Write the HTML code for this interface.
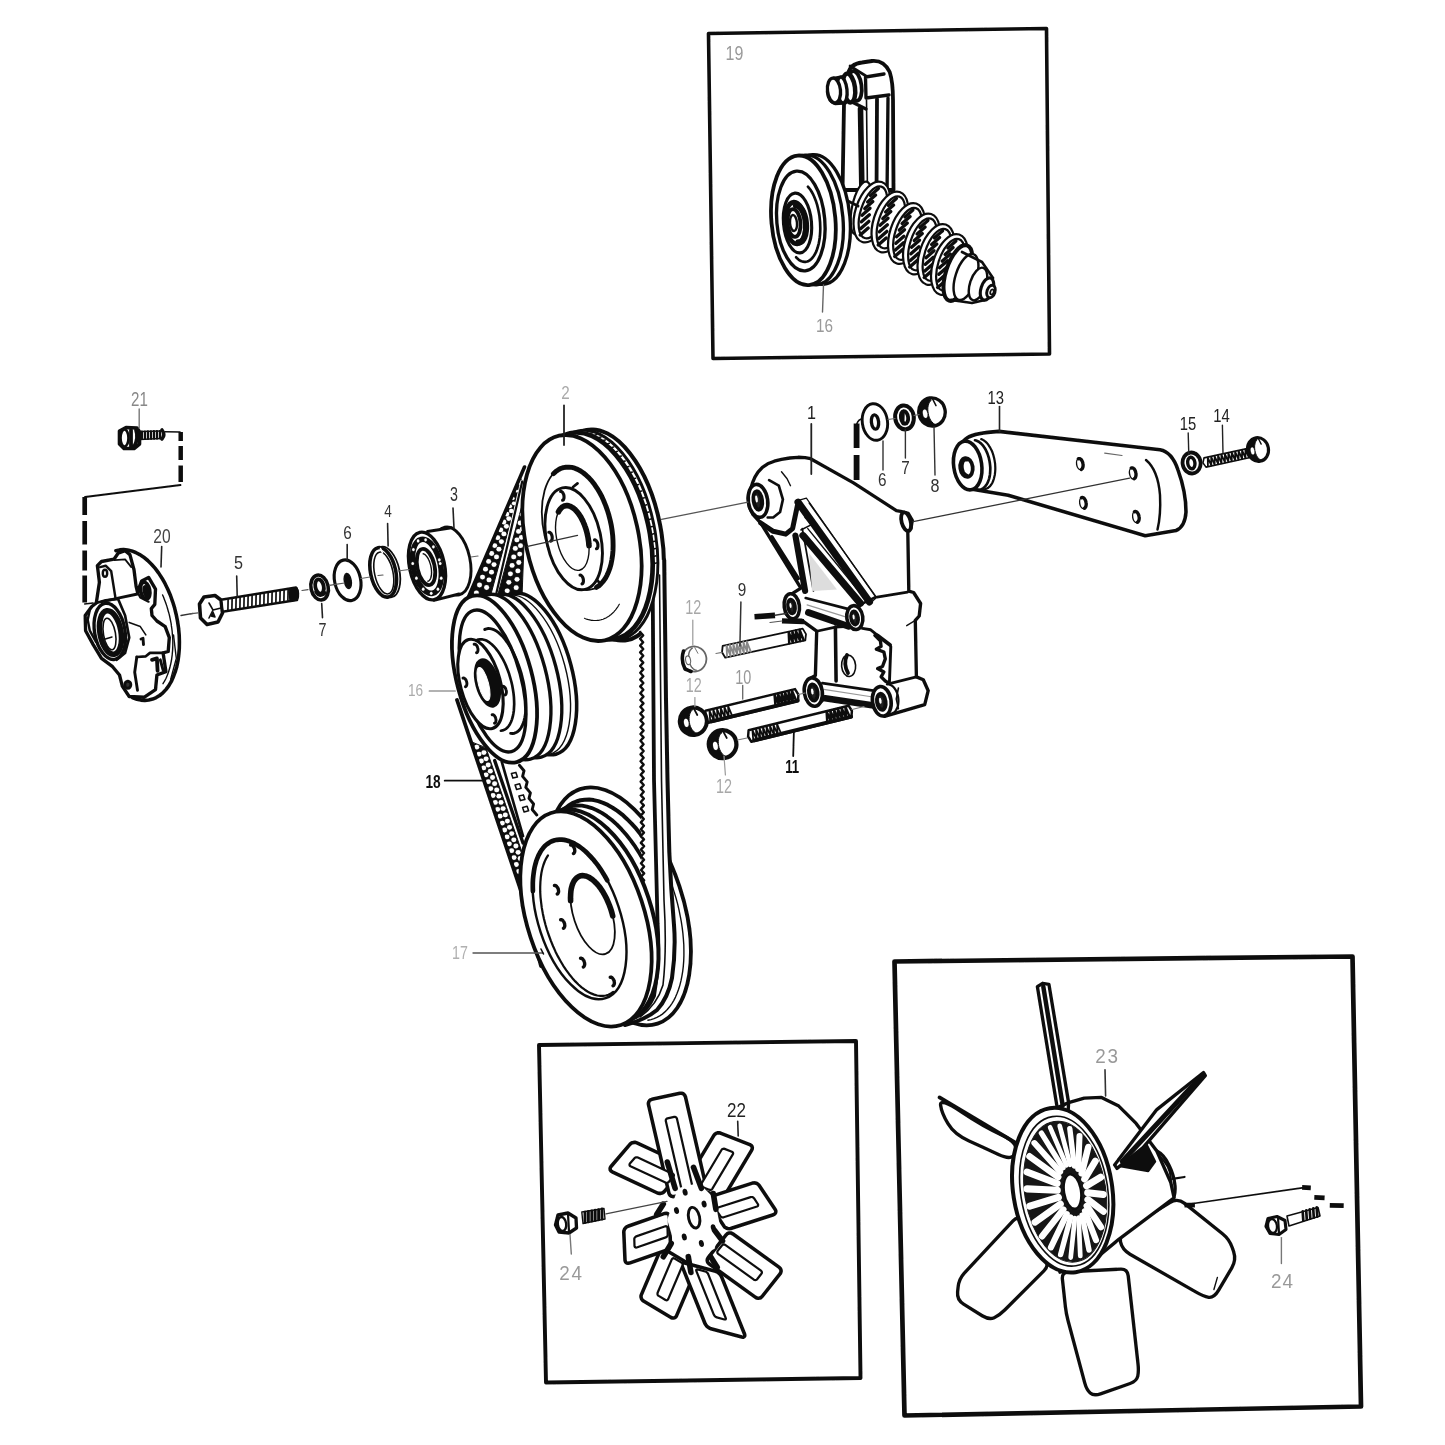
<!DOCTYPE html>
<html><head><meta charset="utf-8"><title>Parts diagram</title>
<style>
html,body{margin:0;padding:0;background:#fff;}
body{width:1445px;height:1445px;overflow:hidden;font-family:"Liberation Sans",sans-serif;}
svg{display:block;}
svg text{font-family:"Liberation Sans",sans-serif;}
svg path,svg ellipse,svg line,svg polygon{stroke-linecap:round;stroke-linejoin:round;}
</style></head><body>
<svg width="1445" height="1445" viewBox="0 0 1445 1445">
<defs><filter id="soft" x="-2%" y="-2%" width="104%" height="104%"><feGaussianBlur stdDeviation="0.55"/></filter></defs>
<rect x="0" y="0" width="1445" height="1445" fill="#fff"/>
<g filter="url(#soft)">
<path d="M708.5,33.5 L1046.5,28.5 L1049.5,354.0 L713.0,358.5 Z" fill="none" stroke="#111" stroke-width="3.58" />
<path d="M539.0,1045.0 L856.0,1041.0 L860.5,1378.0 L546.0,1382.5 Z" fill="none" stroke="#111" stroke-width="3.92" />
<path d="M894.5,961.5 L1352.5,956.5 L1361.0,1406.5 L904.5,1415.5 Z" fill="none" stroke="#111" stroke-width="4.7" />
<path d="M842.7,182 L844,104 L848,100 L848,74 Q850,64 862,62.5 L872,61 Q884,60 889.7,72 Q893,82 893,100 L893.5,190 L842,190 Z" fill="#fff" stroke="#111" stroke-width="3.81" />
<path d="M860.5,109 L862,196" fill="none" stroke="#111" stroke-width="5.6" />
<path d="M866.5,100 L867.5,196" fill="none" stroke="#111" stroke-width="1.6" />
<path d="M877,99 L876.5,196" fill="none" stroke="#111" stroke-width="3.81" />
<path d="M888,98 L887,196" fill="none" stroke="#111" stroke-width="3.36" />
<path d="M865.5,77 L884,74 M865.5,77 L866,98 L889,95" fill="none" stroke="#111" stroke-width="3.36" />
<path d="M848,100 L866,109" fill="none" stroke="#111" stroke-width="3.36" />
<path d="M850,66 L866,76" fill="none" stroke="#111" stroke-width="2.69" />
<ellipse cx="855" cy="86" rx="6.5" ry="15" transform="rotate(-8 855 86)" fill="#fff" stroke="#111" stroke-width="3.81" />
<ellipse cx="849" cy="88" rx="6" ry="14.5" transform="rotate(-8 849 88)" fill="#fff" stroke="#111" stroke-width="4.48" />
<path d="M842,77 L834,78.5 Q827.5,83 827.5,92 Q828.5,101.5 835,103.5 L843,103" fill="#fff" stroke="#111" stroke-width="3.36" />
<ellipse cx="842" cy="90" rx="5" ry="13" transform="rotate(-6 842 90)" fill="#fff" stroke="#111" stroke-width="3.36" />
<ellipse cx="834" cy="90.5" rx="6.5" ry="12.5" transform="rotate(-6 834 90.5)" fill="#fff" stroke="#111" stroke-width="3.36" />
<ellipse cx="861" cy="208" rx="9" ry="27" transform="rotate(12 861 208)" fill="#fff" stroke="#111" stroke-width="2.24" />
<ellipse cx="872" cy="212" rx="16.5" ry="31.5" transform="rotate(18 872 212)" fill="#fff" stroke="#111" stroke-width="2.24" />
<ellipse cx="873" cy="212.3" rx="12.3" ry="27" transform="rotate(18 873 212.3)" fill="#fff" stroke="#111" stroke-width="2.24" />
<path d="M870.4,195.4 L878.4,188.4" fill="none" stroke="#111" stroke-width="3.36" />
<path d="M867.6,202.0 L875.6,195.0" fill="none" stroke="#111" stroke-width="3.36" />
<path d="M864.8,208.6 L872.8,201.6" fill="none" stroke="#111" stroke-width="3.36" />
<path d="M862.0,215.2 L870.0,208.2" fill="none" stroke="#111" stroke-width="3.36" />
<path d="M861.4,221.8 L869.4,214.8" fill="none" stroke="#111" stroke-width="3.36" />
<path d="M860.8,228.4 L868.8,221.4" fill="none" stroke="#111" stroke-width="3.36" />
<path d="M860.2,235.0 L868.2,228.0" fill="none" stroke="#111" stroke-width="3.36" />
<ellipse cx="890" cy="222" rx="16.5" ry="31.5" transform="rotate(18 890 222)" fill="#fff" stroke="#111" stroke-width="2.24" />
<ellipse cx="891" cy="222.3" rx="12.3" ry="27" transform="rotate(18 891 222.3)" fill="#fff" stroke="#111" stroke-width="2.24" />
<path d="M888.4,205.4 L896.4,198.4" fill="none" stroke="#111" stroke-width="3.36" />
<path d="M885.6,212.0 L893.6,205.0" fill="none" stroke="#111" stroke-width="3.36" />
<path d="M882.8,218.6 L890.8,211.6" fill="none" stroke="#111" stroke-width="3.36" />
<path d="M880.0,225.2 L888.0,218.2" fill="none" stroke="#111" stroke-width="3.36" />
<path d="M879.4,231.8 L887.4,224.8" fill="none" stroke="#111" stroke-width="3.36" />
<path d="M878.8,238.4 L886.8,231.4" fill="none" stroke="#111" stroke-width="3.36" />
<path d="M878.2,245.0 L886.2,238.0" fill="none" stroke="#111" stroke-width="3.36" />
<ellipse cx="906.5" cy="233.5" rx="16.5" ry="31.5" transform="rotate(18 906.5 233.5)" fill="#fff" stroke="#111" stroke-width="2.24" />
<ellipse cx="907.5" cy="233.8" rx="12.3" ry="27" transform="rotate(18 907.5 233.8)" fill="#fff" stroke="#111" stroke-width="2.24" />
<path d="M904.9,216.9 L912.9,209.9" fill="none" stroke="#111" stroke-width="3.36" />
<path d="M902.1,223.5 L910.1,216.5" fill="none" stroke="#111" stroke-width="3.36" />
<path d="M899.3,230.1 L907.3,223.1" fill="none" stroke="#111" stroke-width="3.36" />
<path d="M896.5,236.7 L904.5,229.7" fill="none" stroke="#111" stroke-width="3.36" />
<path d="M895.9,243.3 L903.9,236.3" fill="none" stroke="#111" stroke-width="3.36" />
<path d="M895.3,249.9 L903.3,242.9" fill="none" stroke="#111" stroke-width="3.36" />
<path d="M894.7,256.5 L902.7,249.5" fill="none" stroke="#111" stroke-width="3.36" />
<ellipse cx="921.5" cy="244" rx="16.5" ry="31.5" transform="rotate(18 921.5 244)" fill="#fff" stroke="#111" stroke-width="2.24" />
<ellipse cx="922.5" cy="244.3" rx="12.3" ry="27" transform="rotate(18 922.5 244.3)" fill="#fff" stroke="#111" stroke-width="2.24" />
<path d="M919.9,227.4 L927.9,220.4" fill="none" stroke="#111" stroke-width="3.36" />
<path d="M917.1,234.0 L925.1,227.0" fill="none" stroke="#111" stroke-width="3.36" />
<path d="M914.3,240.6 L922.3,233.6" fill="none" stroke="#111" stroke-width="3.36" />
<path d="M911.5,247.2 L919.5,240.2" fill="none" stroke="#111" stroke-width="3.36" />
<path d="M910.9,253.8 L918.9,246.8" fill="none" stroke="#111" stroke-width="3.36" />
<path d="M910.3,260.4 L918.3,253.4" fill="none" stroke="#111" stroke-width="3.36" />
<path d="M909.7,267.0 L917.7,260.0" fill="none" stroke="#111" stroke-width="3.36" />
<ellipse cx="936" cy="254.5" rx="16.5" ry="31.5" transform="rotate(18 936 254.5)" fill="#fff" stroke="#111" stroke-width="2.24" />
<ellipse cx="937" cy="254.8" rx="12.3" ry="27" transform="rotate(18 937 254.8)" fill="#fff" stroke="#111" stroke-width="2.24" />
<path d="M934.4,237.9 L942.4,230.9" fill="none" stroke="#111" stroke-width="3.36" />
<path d="M931.6,244.5 L939.6,237.5" fill="none" stroke="#111" stroke-width="3.36" />
<path d="M928.8,251.1 L936.8,244.1" fill="none" stroke="#111" stroke-width="3.36" />
<path d="M926.0,257.7 L934.0,250.7" fill="none" stroke="#111" stroke-width="3.36" />
<path d="M925.4,264.3 L933.4,257.3" fill="none" stroke="#111" stroke-width="3.36" />
<path d="M924.8,270.9 L932.8,263.9" fill="none" stroke="#111" stroke-width="3.36" />
<path d="M924.2,277.5 L932.2,270.5" fill="none" stroke="#111" stroke-width="3.36" />
<ellipse cx="949.5" cy="264.5" rx="16.5" ry="31.5" transform="rotate(18 949.5 264.5)" fill="#fff" stroke="#111" stroke-width="2.24" />
<ellipse cx="950.5" cy="264.8" rx="12.3" ry="27" transform="rotate(18 950.5 264.8)" fill="#fff" stroke="#111" stroke-width="2.24" />
<path d="M947.9,247.9 L955.9,240.9" fill="none" stroke="#111" stroke-width="3.36" />
<path d="M945.1,254.5 L953.1,247.5" fill="none" stroke="#111" stroke-width="3.36" />
<path d="M942.3,261.1 L950.3,254.1" fill="none" stroke="#111" stroke-width="3.36" />
<path d="M939.5,267.7 L947.5,260.7" fill="none" stroke="#111" stroke-width="3.36" />
<path d="M938.9,274.3 L946.9,267.3" fill="none" stroke="#111" stroke-width="3.36" />
<path d="M938.3,280.9 L946.3,273.9" fill="none" stroke="#111" stroke-width="3.36" />
<path d="M937.7,287.5 L945.7,280.5" fill="none" stroke="#111" stroke-width="3.36" />
<ellipse cx="958" cy="273" rx="12" ry="29" transform="rotate(18 958 273)" fill="#fff" stroke="#111" stroke-width="4.03" />
<ellipse cx="966" cy="277" rx="10.5" ry="24" transform="rotate(18 966 277)" fill="#fff" stroke="#111" stroke-width="2.46" />
<path d="M962,252 L982,262 L993,278 M951,300 L972,303 L985,300" fill="none" stroke="#111" stroke-width="2.69" />
<ellipse cx="978" cy="284" rx="8" ry="17" transform="rotate(18 978 284)" fill="#fff" stroke="#111" stroke-width="2.46" />
<ellipse cx="987" cy="289" rx="6" ry="11.5" transform="rotate(18 987 289)" fill="#fff" stroke="#111" stroke-width="3.14" />
<ellipse cx="991" cy="291.5" rx="4" ry="6.5" transform="rotate(18 991 291.5)" fill="#fff" stroke="#111" stroke-width="2.91" />
<ellipse cx="992" cy="292" rx="1.6" ry="2.6" transform="rotate(18 992 292)" fill="#fff" stroke="#111" stroke-width="1.8" />
<path d="M842,182 Q838,196 846,200 L858,206" fill="none" stroke="#111" stroke-width="2.91" />
<ellipse cx="818" cy="219.5" rx="32" ry="65" transform="rotate(-5 818 219.5)" fill="#fff" stroke="#111" stroke-width="3.36" />
<ellipse cx="811" cy="220" rx="32" ry="65" transform="rotate(-5 811 220)" fill="#fff" stroke="#111" stroke-width="3.36" />
<ellipse cx="803.4" cy="220.3" rx="32" ry="65" transform="rotate(-5 803.4 220.3)" fill="#fff" stroke="#111" stroke-width="3.81" />
<ellipse cx="800.8" cy="221" rx="24" ry="50" transform="rotate(-5 800.8 221)" fill="#fff" stroke="#111" stroke-width="3.36" />
<path d="M807.9,186.7 L809.3,188.3 L810.6,190.0 L811.8,192.0 L813.0,194.2 L814.1,196.5 L815.1,199.0 L816.1,201.6 L817.0,204.4 L817.7,207.2 L818.4,210.2 L819.0,213.2 L819.5,216.3 L819.8,219.4 L820.1,222.5 L820.2,225.6 L820.3,228.8 L820.2,231.8 L820.0,234.8 L819.7,237.7 L819.3,240.6 L818.8,243.3 L818.1,245.9 L817.4,248.3 L816.6,250.6 L815.7,252.7 L814.7,254.6 L813.6,256.3 L812.5,257.8 L811.3,259.0 L810.0,260.1 L808.7,260.9 L807.3,261.5 L806.0,261.8 L804.5,261.9 L803.1,261.7 L801.7,261.3 L800.2,260.7 L798.8,259.8 L797.4,258.6 L796.1,257.3" fill="none" stroke="#111" stroke-width="2.69" />
<ellipse cx="797.5" cy="223" rx="14" ry="30" transform="rotate(-5 797.5 223)" fill="#fff" stroke="#111" stroke-width="3.14" />
<ellipse cx="795.5" cy="223" rx="10" ry="21" transform="rotate(-5 795.5 223)" fill="#fff" stroke="#111" stroke-width="4.7" />
<path d="M795.9,205.6 L796.6,205.6 L797.3,205.7 L798.0,205.9 L798.7,206.3 L799.3,206.8 L800.0,207.3 L800.7,208.0 L801.3,208.8 L801.9,209.7 L802.5,210.7 L803.1,211.8 L803.6,213.0 L804.0,214.2 L804.5,215.5 L804.9,216.8 L805.2,218.2 L805.5,219.6 L805.7,221.1 L805.9,222.6 L806.0,224.1 L806.1,225.6 L806.1,227.0 L806.1,228.5 L806.0,229.9 L805.8,231.3 L805.6,232.6 L805.4,233.9 L805.1,235.2 L804.7,236.3 L804.3,237.4 L803.8,238.3 L803.4,239.2 L802.8,240.0 L802.3,240.7 L801.7,241.3 L801.0,241.7 L800.4,242.1 L799.7,242.3 L799.1,242.4 L798.4,242.4" fill="none" stroke="#111" stroke-width="6.16" />
<ellipse cx="794" cy="223" rx="6.5" ry="14" transform="rotate(-5 794 223)" fill="#fff" stroke="#111" stroke-width="3.81" />
<ellipse cx="793.5" cy="223" rx="3.5" ry="8" transform="rotate(-5 793.5 223)" fill="#fff" stroke="#111" stroke-width="2.46" />
<text x="0" y="0" font-size="20" fill="#9a9a9a" text-anchor="middle" transform="translate(734.5,59.5) scale(0.8,1)">19</text>
<line x1="823.5" y1="285" x2="822.5" y2="312" stroke="#666" stroke-width="1.4" />
<text x="0" y="0" font-size="18" fill="#9a9a9a" text-anchor="middle" transform="translate(824.5,331.5) scale(0.85,1)">16</text>
<ellipse cx="618.8" cy="906.4" rx="63.9" ry="123.5" transform="rotate(-18.3 618.8 906.4)" fill="#fff" stroke="#111" stroke-width="3.81" />
<path d="M652.0,842.6 L654.9,847.6 L657.8,852.7 L660.5,858.0 L663.2,863.4 L665.7,869.0 L668.0,874.6 L670.2,880.4 L672.3,886.2 L674.2,892.1 L676.0,898.0 L677.6,903.9 L679.0,909.9 L680.2,915.8 L681.3,921.7 L682.2,927.6 L682.9,933.4 L683.4,939.2 L683.8,944.8 L683.9,950.4 L683.9,955.8 L683.7,961.1 L683.3,966.3 L682.7,971.3 L681.9,976.1 L681.0,980.7 L679.9,985.1 L678.6,989.3 L677.1,993.3 L675.5,997.1 L673.7,1000.6 L671.7,1003.8 L669.6,1006.8 L667.3,1009.5 L664.9,1011.9 L662.4,1014.1 L659.7,1015.9 L656.9,1017.4 L654.0,1018.7 L651.0,1019.6 L647.9,1020.2" fill="none" stroke="#111" stroke-width="1.4" />
<path d="M563.7,946.1 L560.6,938.6 L557.7,930.9 L555.2,923.2 L552.9,915.3 L551.0,907.4 L549.4,899.6 L548.1,891.8 L547.2,884.0 L546.5,876.4 L546.3,869.0 L546.4,861.8 L546.8,854.8 L547.6,848.1 L548.7,841.7 L550.1,835.7 L551.9,830.0 L554.0,824.8 L556.4,820.0 L559.1,815.6 L562.0,811.7 L565.3,808.4 L568.7,805.5 L572.4,803.2 L576.4,801.5 L580.5,800.3 L584.7,799.7 L589.2,799.6 L593.7,800.1 L598.3,801.1 L603.1,802.8 L607.8,804.9 L612.6,807.7 L617.4,810.9 L622.2,814.6 L626.9,818.9 L631.6,823.6 L636.2,828.7 L640.6,834.3 L644.9,840.2 L649.0,846.5" fill="none" stroke="#111" stroke-width="4.03" />
<path d="M554.5,949.5 L551.3,941.6 L548.3,933.6 L545.7,925.5 L543.5,917.4 L541.5,909.1 L540.0,901.0 L538.8,892.8 L537.9,884.8 L537.5,877.0 L537.4,869.4 L537.7,862.0 L538.4,854.9 L539.5,848.2 L541.0,841.8 L542.8,835.9 L544.9,830.4 L547.4,825.4 L550.2,820.9 L553.4,816.9 L556.8,813.5 L560.5,810.7 L564.4,808.5 L568.6,806.9 L572.9,805.8 L577.5,805.5 L582.1,805.7 L586.9,806.6 L591.8,808.1 L596.8,810.2 L601.8,812.9 L606.8,816.2 L611.8,820.0 L616.7,824.4 L621.6,829.4 L626.3,834.8 L630.9,840.6 L635.4,846.9 L639.6,853.5 L643.7,860.6 L647.5,867.9" fill="none" stroke="#111" stroke-width="3.81" />
<ellipse cx="607" cy="535" rx="54" ry="107" transform="rotate(-11 607 535)" fill="#fff" stroke="#111" stroke-width="4.03" />
<path d="M641,560 L641.5,890 L660,960 L676,945 L670,850 L665,560 Z" fill="#fff" stroke="#fff" stroke-width="0.1" />
<path d="M664.2,560 L666,700 L667.5,780 L669.3,852 Q671,890 674,925 Q676,950 672,978 Q668,998 657,1010 Q645,1020 625,1025" fill="none" stroke="#111" stroke-width="4.03" />
<path d="M659.5,575 L661.5,780 L664,900 Q667,950 663,985 Q657,1005 640,1017" fill="none" stroke="#111" stroke-width="1.6" />
<path d="M652.5,560 L654,780 L657.6,924 Q660,960 654,996 Q648,1010 636,1017" fill="none" stroke="#111" stroke-width="3.81" />
<path d="M640.1,632.0 L643.1,635.4 L640.1,638.8 L643.1,642.2 L640.2,645.6 L643.2,649.0 L640.2,652.4 L643.2,655.8 L640.2,659.2 L643.2,662.6 L640.2,666.0 L643.2,669.4 L640.3,672.8 L643.3,676.2 L640.3,679.6 L643.3,683.0 L640.3,686.4 L643.3,689.8 L640.3,693.2 L643.4,696.6 L640.4,700.0 L643.4,703.4 L640.4,706.8 L643.4,710.2 L640.4,713.6 L643.4,717.0 L640.5,720.4 L643.5,723.8 L640.5,727.2 L643.5,730.6 L640.5,734.0 L643.5,737.4 L640.5,740.8 L643.5,744.2 L640.6,747.6 L643.6,751.0 L640.6,754.4 L643.6,757.8 L640.6,761.2 L643.6,764.6 L640.6,768.0 L643.7,771.4 L640.7,774.8 L643.7,778.2 L640.7,781.6 L643.7,785.0 L640.7,788.4 L643.7,791.8 L640.8,795.2 L643.8,798.6 L640.8,802.0 L643.8,805.4 L640.8,808.8 L643.8,812.2 L640.8,815.6 L643.8,819.0 L640.9,822.4 L643.9,825.8 L640.9,829.2 L643.9,832.6 L640.9,836.0 L643.9,839.4 L640.9,842.8 L644.0,846.2 L641.0,849.6 L644.0,853.0 L641.0,856.4 L644.0,859.8 L641.0,863.2 L644.0,866.6 L641.1,870.0 L644.1,873.4 L641.1,876.8 L644.1,880.2 L641.1,883.6 L644.1,887.0 L641.1,890.4" fill="none" stroke="#111" stroke-width="2.46" />
<path d="M526,463 L469,597 L500,640 L560,600 L540,470 Z" fill="#fff" stroke="#fff" stroke-width="0.1" />
<path d="M520.0,477.5 L468.0,598.0 L491.0,594.0 L521.7,481.5 Z" fill="#111" stroke="#111" stroke-width="1" />
<ellipse cx="519.5" cy="483.4" rx="1.34" ry="1.27" transform="rotate(0 519.5 483.4)" fill="#fff" stroke="#fff" stroke-width="0.1" />
<ellipse cx="516.7" cy="491.1" rx="1.5" ry="1.43" transform="rotate(0 516.7 491.1)" fill="#fff" stroke="#fff" stroke-width="0.1" />
<ellipse cx="512.9" cy="498.4" rx="1.77" ry="1.68" transform="rotate(0 512.9 498.4)" fill="#fff" stroke="#fff" stroke-width="0.1" />
<ellipse cx="509.9" cy="506.2" rx="2.11" ry="2.0" transform="rotate(0 509.9 506.2)" fill="#fff" stroke="#fff" stroke-width="0.1" />
<ellipse cx="506.8" cy="514.1" rx="2.48" ry="2.36" transform="rotate(0 506.8 514.1)" fill="#fff" stroke="#fff" stroke-width="0.1" />
<ellipse cx="503.8" cy="522.0" rx="2.5" ry="2.38" transform="rotate(0 503.8 522.0)" fill="#fff" stroke="#fff" stroke-width="0.1" />
<ellipse cx="500.7" cy="529.9" rx="2.5" ry="2.38" transform="rotate(0 500.7 529.9)" fill="#fff" stroke="#fff" stroke-width="0.1" />
<ellipse cx="497.7" cy="537.7" rx="2.5" ry="2.38" transform="rotate(0 497.7 537.7)" fill="#fff" stroke="#fff" stroke-width="0.1" />
<ellipse cx="494.7" cy="545.6" rx="2.5" ry="2.38" transform="rotate(0 494.7 545.6)" fill="#fff" stroke="#fff" stroke-width="0.1" />
<ellipse cx="491.6" cy="553.5" rx="2.5" ry="2.38" transform="rotate(0 491.6 553.5)" fill="#fff" stroke="#fff" stroke-width="0.1" />
<ellipse cx="488.6" cy="561.4" rx="2.5" ry="2.38" transform="rotate(0 488.6 561.4)" fill="#fff" stroke="#fff" stroke-width="0.1" />
<ellipse cx="485.5" cy="569.2" rx="2.5" ry="2.38" transform="rotate(0 485.5 569.2)" fill="#fff" stroke="#fff" stroke-width="0.1" />
<ellipse cx="482.5" cy="577.1" rx="2.5" ry="2.38" transform="rotate(0 482.5 577.1)" fill="#fff" stroke="#fff" stroke-width="0.1" />
<ellipse cx="479.5" cy="585.0" rx="2.5" ry="2.38" transform="rotate(0 479.5 585.0)" fill="#fff" stroke="#fff" stroke-width="0.1" />
<ellipse cx="476.4" cy="592.9" rx="2.5" ry="2.38" transform="rotate(0 476.4 592.9)" fill="#fff" stroke="#fff" stroke-width="0.1" />
<ellipse cx="513.8" cy="503.3" rx="1.93" ry="1.84" transform="rotate(0 513.8 503.3)" fill="#fff" stroke="#fff" stroke-width="0.1" />
<ellipse cx="511.3" cy="510.9" rx="2.29" ry="2.17" transform="rotate(0 511.3 510.9)" fill="#fff" stroke="#fff" stroke-width="0.1" />
<ellipse cx="508.8" cy="518.6" rx="2.5" ry="2.38" transform="rotate(0 508.8 518.6)" fill="#fff" stroke="#fff" stroke-width="0.1" />
<ellipse cx="506.4" cy="526.3" rx="2.5" ry="2.38" transform="rotate(0 506.4 526.3)" fill="#fff" stroke="#fff" stroke-width="0.1" />
<ellipse cx="503.9" cy="533.9" rx="2.5" ry="2.38" transform="rotate(0 503.9 533.9)" fill="#fff" stroke="#fff" stroke-width="0.1" />
<ellipse cx="501.4" cy="541.6" rx="2.5" ry="2.38" transform="rotate(0 501.4 541.6)" fill="#fff" stroke="#fff" stroke-width="0.1" />
<ellipse cx="498.9" cy="549.2" rx="2.5" ry="2.38" transform="rotate(0 498.9 549.2)" fill="#fff" stroke="#fff" stroke-width="0.1" />
<ellipse cx="496.5" cy="556.9" rx="2.5" ry="2.38" transform="rotate(0 496.5 556.9)" fill="#fff" stroke="#fff" stroke-width="0.1" />
<ellipse cx="494.0" cy="564.6" rx="2.5" ry="2.38" transform="rotate(0 494.0 564.6)" fill="#fff" stroke="#fff" stroke-width="0.1" />
<ellipse cx="491.5" cy="572.2" rx="2.5" ry="2.38" transform="rotate(0 491.5 572.2)" fill="#fff" stroke="#fff" stroke-width="0.1" />
<ellipse cx="489.0" cy="579.9" rx="2.5" ry="2.38" transform="rotate(0 489.0 579.9)" fill="#fff" stroke="#fff" stroke-width="0.1" />
<ellipse cx="486.6" cy="587.5" rx="2.5" ry="2.38" transform="rotate(0 486.6 587.5)" fill="#fff" stroke="#fff" stroke-width="0.1" />
<path d="M523.5,500.0 L498.0,594.0 L522.0,597.0 L525.5,505.0 Z" fill="#111" stroke="#111" stroke-width="1" />
<ellipse cx="523.4" cy="506.0" rx="1.73" ry="1.64" transform="rotate(0 523.4 506.0)" fill="#fff" stroke="#fff" stroke-width="0.1" />
<ellipse cx="521.8" cy="514.5" rx="2.06" ry="1.96" transform="rotate(0 521.8 514.5)" fill="#fff" stroke="#fff" stroke-width="0.1" />
<ellipse cx="520.2" cy="523.0" rx="2.5" ry="2.38" transform="rotate(0 520.2 523.0)" fill="#fff" stroke="#fff" stroke-width="0.1" />
<ellipse cx="518.5" cy="531.4" rx="2.5" ry="2.38" transform="rotate(0 518.5 531.4)" fill="#fff" stroke="#fff" stroke-width="0.1" />
<ellipse cx="516.9" cy="539.9" rx="2.5" ry="2.38" transform="rotate(0 516.9 539.9)" fill="#fff" stroke="#fff" stroke-width="0.1" />
<ellipse cx="515.3" cy="548.4" rx="2.5" ry="2.38" transform="rotate(0 515.3 548.4)" fill="#fff" stroke="#fff" stroke-width="0.1" />
<ellipse cx="513.7" cy="556.9" rx="2.5" ry="2.38" transform="rotate(0 513.7 556.9)" fill="#fff" stroke="#fff" stroke-width="0.1" />
<ellipse cx="512.1" cy="565.4" rx="2.5" ry="2.38" transform="rotate(0 512.1 565.4)" fill="#fff" stroke="#fff" stroke-width="0.1" />
<ellipse cx="510.4" cy="573.8" rx="2.5" ry="2.38" transform="rotate(0 510.4 573.8)" fill="#fff" stroke="#fff" stroke-width="0.1" />
<ellipse cx="508.8" cy="582.3" rx="2.5" ry="2.38" transform="rotate(0 508.8 582.3)" fill="#fff" stroke="#fff" stroke-width="0.1" />
<ellipse cx="507.2" cy="590.8" rx="2.5" ry="2.38" transform="rotate(0 507.2 590.8)" fill="#fff" stroke="#fff" stroke-width="0.1" />
<ellipse cx="524.1" cy="512.0" rx="1.88" ry="1.78" transform="rotate(0 524.1 512.0)" fill="#fff" stroke="#fff" stroke-width="0.1" />
<ellipse cx="523.2" cy="520.4" rx="2.27" ry="2.16" transform="rotate(0 523.2 520.4)" fill="#fff" stroke="#fff" stroke-width="0.1" />
<ellipse cx="522.3" cy="528.8" rx="2.5" ry="2.38" transform="rotate(0 522.3 528.8)" fill="#fff" stroke="#fff" stroke-width="0.1" />
<ellipse cx="521.4" cy="537.3" rx="2.5" ry="2.38" transform="rotate(0 521.4 537.3)" fill="#fff" stroke="#fff" stroke-width="0.1" />
<ellipse cx="520.5" cy="545.7" rx="2.5" ry="2.38" transform="rotate(0 520.5 545.7)" fill="#fff" stroke="#fff" stroke-width="0.1" />
<ellipse cx="519.7" cy="554.1" rx="2.5" ry="2.38" transform="rotate(0 519.7 554.1)" fill="#fff" stroke="#fff" stroke-width="0.1" />
<ellipse cx="518.8" cy="562.5" rx="2.5" ry="2.38" transform="rotate(0 518.8 562.5)" fill="#fff" stroke="#fff" stroke-width="0.1" />
<ellipse cx="517.9" cy="570.9" rx="2.5" ry="2.38" transform="rotate(0 517.9 570.9)" fill="#fff" stroke="#fff" stroke-width="0.1" />
<ellipse cx="517.0" cy="579.3" rx="2.5" ry="2.38" transform="rotate(0 517.0 579.3)" fill="#fff" stroke="#fff" stroke-width="0.1" />
<ellipse cx="516.2" cy="587.7" rx="2.5" ry="2.38" transform="rotate(0 516.2 587.7)" fill="#fff" stroke="#fff" stroke-width="0.1" />
<path d="M524.5,467 L468,598" fill="none" stroke="#111" stroke-width="3.58" />
<path d="M521.7,481.5 L495.4,593" fill="none" stroke="#fff" stroke-width="2.91" />
<path d="M522.2,481.5 L496.4,593" fill="none" stroke="#111" stroke-width="2.24" />
<path d="M462,720 L523,899 L545,890 L540,800 L500,730 Z" fill="#fff" stroke="#fff" stroke-width="0.1" />
<path d="M471.0,742.0 L518.0,882.0 L524.0,858.0 L486.0,748.0 Z" fill="#111" stroke="#111" stroke-width="1" />
<ellipse cx="476.7" cy="747.2" rx="2.5" ry="2.38" transform="rotate(0 476.7 747.2)" fill="#fff" stroke="#fff" stroke-width="0.1" />
<ellipse cx="479.0" cy="754.1" rx="2.5" ry="2.38" transform="rotate(0 479.0 754.1)" fill="#fff" stroke="#fff" stroke-width="0.1" />
<ellipse cx="481.3" cy="761.0" rx="2.5" ry="2.38" transform="rotate(0 481.3 761.0)" fill="#fff" stroke="#fff" stroke-width="0.1" />
<ellipse cx="483.7" cy="767.9" rx="2.5" ry="2.38" transform="rotate(0 483.7 767.9)" fill="#fff" stroke="#fff" stroke-width="0.1" />
<ellipse cx="486.0" cy="774.8" rx="2.5" ry="2.38" transform="rotate(0 486.0 774.8)" fill="#fff" stroke="#fff" stroke-width="0.1" />
<ellipse cx="488.3" cy="781.7" rx="2.5" ry="2.38" transform="rotate(0 488.3 781.7)" fill="#fff" stroke="#fff" stroke-width="0.1" />
<ellipse cx="490.7" cy="788.6" rx="2.5" ry="2.38" transform="rotate(0 490.7 788.6)" fill="#fff" stroke="#fff" stroke-width="0.1" />
<ellipse cx="493.0" cy="795.5" rx="2.5" ry="2.38" transform="rotate(0 493.0 795.5)" fill="#fff" stroke="#fff" stroke-width="0.1" />
<ellipse cx="495.3" cy="802.4" rx="2.5" ry="2.38" transform="rotate(0 495.3 802.4)" fill="#fff" stroke="#fff" stroke-width="0.1" />
<ellipse cx="497.6" cy="809.3" rx="2.5" ry="2.38" transform="rotate(0 497.6 809.3)" fill="#fff" stroke="#fff" stroke-width="0.1" />
<ellipse cx="500.0" cy="816.2" rx="2.5" ry="2.38" transform="rotate(0 500.0 816.2)" fill="#fff" stroke="#fff" stroke-width="0.1" />
<ellipse cx="502.3" cy="823.1" rx="2.5" ry="2.38" transform="rotate(0 502.3 823.1)" fill="#fff" stroke="#fff" stroke-width="0.1" />
<ellipse cx="504.6" cy="830.0" rx="2.5" ry="2.38" transform="rotate(0 504.6 830.0)" fill="#fff" stroke="#fff" stroke-width="0.1" />
<ellipse cx="507.0" cy="836.9" rx="2.5" ry="2.38" transform="rotate(0 507.0 836.9)" fill="#fff" stroke="#fff" stroke-width="0.1" />
<ellipse cx="509.3" cy="843.8" rx="2.5" ry="2.38" transform="rotate(0 509.3 843.8)" fill="#fff" stroke="#fff" stroke-width="0.1" />
<ellipse cx="511.6" cy="850.7" rx="2.5" ry="2.38" transform="rotate(0 511.6 850.7)" fill="#fff" stroke="#fff" stroke-width="0.1" />
<ellipse cx="514.0" cy="857.6" rx="2.5" ry="2.38" transform="rotate(0 514.0 857.6)" fill="#fff" stroke="#fff" stroke-width="0.1" />
<ellipse cx="516.3" cy="864.5" rx="2.5" ry="2.38" transform="rotate(0 516.3 864.5)" fill="#fff" stroke="#fff" stroke-width="0.1" />
<ellipse cx="518.6" cy="871.4" rx="2.5" ry="2.38" transform="rotate(0 518.6 871.4)" fill="#fff" stroke="#fff" stroke-width="0.1" />
<ellipse cx="483.9" cy="752.6" rx="2.5" ry="2.38" transform="rotate(0 483.9 752.6)" fill="#fff" stroke="#fff" stroke-width="0.1" />
<ellipse cx="486.1" cy="758.8" rx="2.5" ry="2.38" transform="rotate(0 486.1 758.8)" fill="#fff" stroke="#fff" stroke-width="0.1" />
<ellipse cx="488.2" cy="765.0" rx="2.5" ry="2.38" transform="rotate(0 488.2 765.0)" fill="#fff" stroke="#fff" stroke-width="0.1" />
<ellipse cx="490.3" cy="771.2" rx="2.5" ry="2.38" transform="rotate(0 490.3 771.2)" fill="#fff" stroke="#fff" stroke-width="0.1" />
<ellipse cx="492.5" cy="777.5" rx="2.5" ry="2.38" transform="rotate(0 492.5 777.5)" fill="#fff" stroke="#fff" stroke-width="0.1" />
<ellipse cx="494.6" cy="783.7" rx="2.5" ry="2.38" transform="rotate(0 494.6 783.7)" fill="#fff" stroke="#fff" stroke-width="0.1" />
<ellipse cx="496.7" cy="789.9" rx="2.5" ry="2.38" transform="rotate(0 496.7 789.9)" fill="#fff" stroke="#fff" stroke-width="0.1" />
<ellipse cx="498.9" cy="796.2" rx="2.5" ry="2.38" transform="rotate(0 498.9 796.2)" fill="#fff" stroke="#fff" stroke-width="0.1" />
<ellipse cx="501.0" cy="802.4" rx="2.5" ry="2.38" transform="rotate(0 501.0 802.4)" fill="#fff" stroke="#fff" stroke-width="0.1" />
<ellipse cx="503.1" cy="808.6" rx="2.5" ry="2.38" transform="rotate(0 503.1 808.6)" fill="#fff" stroke="#fff" stroke-width="0.1" />
<ellipse cx="505.3" cy="814.9" rx="2.5" ry="2.38" transform="rotate(0 505.3 814.9)" fill="#fff" stroke="#fff" stroke-width="0.1" />
<ellipse cx="507.4" cy="821.1" rx="2.5" ry="2.38" transform="rotate(0 507.4 821.1)" fill="#fff" stroke="#fff" stroke-width="0.1" />
<ellipse cx="509.5" cy="827.3" rx="2.5" ry="2.38" transform="rotate(0 509.5 827.3)" fill="#fff" stroke="#fff" stroke-width="0.1" />
<ellipse cx="511.7" cy="833.6" rx="2.5" ry="2.38" transform="rotate(0 511.7 833.6)" fill="#fff" stroke="#fff" stroke-width="0.1" />
<ellipse cx="513.8" cy="839.8" rx="2.5" ry="2.38" transform="rotate(0 513.8 839.8)" fill="#fff" stroke="#fff" stroke-width="0.1" />
<ellipse cx="515.9" cy="846.0" rx="2.5" ry="2.38" transform="rotate(0 515.9 846.0)" fill="#fff" stroke="#fff" stroke-width="0.1" />
<ellipse cx="518.1" cy="852.3" rx="2.5" ry="2.38" transform="rotate(0 518.1 852.3)" fill="#fff" stroke="#fff" stroke-width="0.1" />
<ellipse cx="520.2" cy="858.5" rx="2.5" ry="2.38" transform="rotate(0 520.2 858.5)" fill="#fff" stroke="#fff" stroke-width="0.1" />
<path d="M457,700 L524,900 L541,966" fill="none" stroke="#111" stroke-width="3.81" />
<path d="M494.7,760.6 L523,843" fill="none" stroke="#111" stroke-width="3.36" />
<path d="M501.8,761.8 L523,836" fill="none" stroke="#111" stroke-width="2.69" />
<path d="M519.4,765.3 L524.0,770.8 L522.6,776.3 L527.2,781.9 L525.8,787.4 L530.4,792.9 L529.0,798.4 L533.6,804.0 L532.2,809.5 L536.8,815.0" fill="none" stroke="#111" stroke-width="2.91" />
<path d="M511.4,773.6 l4.5,-1.2 l1.5,4.5 l-4.5,1.2 z" fill="none" stroke="#111" stroke-width="1.6" />
<path d="M515.1,784.9 l4.5,-1.2 l1.5,4.5 l-4.5,1.2 z" fill="none" stroke="#111" stroke-width="1.6" />
<path d="M518.9,796.1 l4.5,-1.2 l1.5,4.5 l-4.5,1.2 z" fill="none" stroke="#111" stroke-width="1.6" />
<path d="M522.6,807.4 l4.5,-1.2 l1.5,4.5 l-4.5,1.2 z" fill="none" stroke="#111" stroke-width="1.6" />
<ellipse cx="534.5" cy="674" rx="37.5" ry="83" transform="rotate(-15 534.5 674)" fill="#fff" stroke="#111" stroke-width="3.58" />
<ellipse cx="528.5" cy="675" rx="37.5" ry="82" transform="rotate(-15 528.5 675)" fill="#fff" stroke="#111" stroke-width="1.4" />
<ellipse cx="519.5" cy="676" rx="37.5" ry="84" transform="rotate(-15 519.5 676)" fill="#fff" stroke="#111" stroke-width="3.36" />
<ellipse cx="508.5" cy="677" rx="37.5" ry="85" transform="rotate(-15 508.5 677)" fill="#fff" stroke="#111" stroke-width="3.36" />
<ellipse cx="494.5" cy="679" rx="37.5" ry="86" transform="rotate(-15 494.5 679)" fill="#fff" stroke="#111" stroke-width="3.81" />
<ellipse cx="492.6" cy="681" rx="28.5" ry="73" transform="rotate(-15 492.6 681)" fill="#fff" stroke="#111" stroke-width="3.36" />
<path d="M484.7,629.5 L486.5,628.9 L488.3,628.5 L490.3,628.6 L492.3,629.1 L494.4,629.9 L496.5,631.1 L498.6,632.7 L500.8,634.6 L503.0,636.8 L505.1,639.4 L507.2,642.3 L509.3,645.4 L511.3,648.8 L513.2,652.4 L515.0,656.3 L516.7,660.3 L518.3,664.5 L519.8,668.8 L521.2,673.1 L522.3,677.6 L523.4,682.0 L524.2,686.5 L524.9,690.9 L525.4,695.3 L525.8,699.5 L525.9,703.6 L525.9,707.5 L525.7,711.3 L525.3,714.8 L524.7,718.1 L523.9,721.1 L523.0,723.9 L521.9,726.3 L520.7,728.4 L519.3,730.1 L517.8,731.5 L516.1,732.5 L514.4,733.2 L512.5,733.5 L510.6,733.4" fill="none" stroke="#111" stroke-width="2.91" />
<path d="M475.0,641.2 L476.6,640.3 L478.2,639.6 L480.0,639.3 L481.9,639.3 L483.8,639.7 L485.7,640.3 L487.7,641.3 L489.7,642.7 L491.7,644.3 L493.7,646.2 L495.7,648.4 L497.6,650.8 L499.5,653.6 L501.3,656.5 L503.1,659.6 L504.8,663.0 L506.3,666.4 L507.7,670.1 L509.1,673.8 L510.2,677.6 L511.3,681.5 L512.2,685.3 L512.9,689.2 L513.5,693.1 L513.9,696.9 L514.1,700.6 L514.2,704.2 L514.0,707.6 L513.8,710.9 L513.3,714.0 L512.7,716.9 L511.9,719.6 L511.0,722.0 L509.9,724.2 L508.7,726.0 L507.4,727.6 L505.9,728.9 L504.3,729.8 L502.6,730.4 L500.9,730.7" fill="none" stroke="#111" stroke-width="2.69" />
<ellipse cx="480.5" cy="684" rx="20" ry="46" transform="rotate(-15 480.5 684)" fill="#fff" stroke="#111" stroke-width="3.14" />
<ellipse cx="487.5" cy="683" rx="11" ry="24" transform="rotate(-15 487.5 683)" fill="#111" stroke="#111" stroke-width="2.69" />
<ellipse cx="483.5" cy="684" rx="5" ry="17" transform="rotate(-15 483.5 684)" fill="#fff" stroke="#fff" stroke-width="1" />
<path d="M474.1,644.2 L474.3,644.1 L474.5,644.1 L474.7,644.1 L474.9,644.2 L475.1,644.2 L475.4,644.3 L475.6,644.5 L475.8,644.6 L476.0,644.8 L476.2,645.0 L476.4,645.2 L476.6,645.4 L476.8,645.7 L476.9,646.0 L477.1,646.2 L477.2,646.5 L477.4,646.9 L477.5,647.2 L477.6,647.5 L477.7,647.9 L477.8,648.2 L477.9,648.5 L477.9,648.9 L478.0,649.2 L478.0,649.6 L478.0,649.9 L478.0,650.2 L477.9,650.5 L477.9,650.8 L477.8,651.1 L477.8,651.4 L477.7,651.6 L477.6,651.9 L477.4,652.1 L477.3,652.3 L477.2,652.4 L477.0,652.6 L476.8,652.7 L476.7,652.8 L476.5,652.8" fill="none" stroke="#111" stroke-width="2.91" />
<path d="M502.5,686.4 L502.7,686.3 L502.9,686.3 L503.1,686.3 L503.3,686.4 L503.5,686.4 L503.8,686.5 L504.0,686.7 L504.2,686.8 L504.4,687.0 L504.6,687.2 L504.8,687.4 L505.0,687.6 L505.2,687.9 L505.3,688.2 L505.5,688.4 L505.6,688.7 L505.8,689.1 L505.9,689.4 L506.0,689.7 L506.1,690.1 L506.2,690.4 L506.3,690.7 L506.3,691.1 L506.4,691.4 L506.4,691.8 L506.4,692.1 L506.4,692.4 L506.3,692.7 L506.3,693.0 L506.2,693.3 L506.2,693.6 L506.1,693.8 L506.0,694.1 L505.8,694.3 L505.7,694.5 L505.6,694.6 L505.4,694.8 L505.2,694.9 L505.1,695.0 L504.9,695.0" fill="none" stroke="#111" stroke-width="2.91" />
<path d="M492.1,714.7 L492.3,714.6 L492.5,714.6 L492.7,714.6 L492.9,714.7 L493.1,714.7 L493.4,714.8 L493.6,715.0 L493.8,715.1 L494.0,715.3 L494.2,715.5 L494.4,715.7 L494.6,715.9 L494.8,716.2 L494.9,716.5 L495.1,716.7 L495.2,717.0 L495.4,717.4 L495.5,717.7 L495.6,718.0 L495.7,718.4 L495.8,718.7 L495.9,719.0 L495.9,719.4 L496.0,719.7 L496.0,720.1 L496.0,720.4 L496.0,720.7 L495.9,721.0 L495.9,721.3 L495.8,721.6 L495.8,721.9 L495.7,722.1 L495.6,722.4 L495.4,722.6 L495.3,722.8 L495.2,722.9 L495.0,723.1 L494.8,723.2 L494.7,723.3 L494.5,723.3" fill="none" stroke="#111" stroke-width="2.91" />
<path d="M463.0,678.1 L463.2,678.0 L463.4,678.0 L463.6,678.0 L463.8,678.1 L464.0,678.1 L464.3,678.2 L464.5,678.4 L464.7,678.5 L464.9,678.7 L465.1,678.9 L465.3,679.1 L465.5,679.3 L465.7,679.6 L465.8,679.9 L466.0,680.1 L466.1,680.4 L466.3,680.8 L466.4,681.1 L466.5,681.4 L466.6,681.8 L466.7,682.1 L466.8,682.4 L466.8,682.8 L466.9,683.1 L466.9,683.5 L466.9,683.8 L466.9,684.1 L466.8,684.4 L466.8,684.7 L466.7,685.0 L466.7,685.3 L466.6,685.5 L466.5,685.8 L466.3,686.0 L466.2,686.2 L466.1,686.3 L465.9,686.5 L465.7,686.6 L465.6,686.7 L465.4,686.7" fill="none" stroke="#111" stroke-width="2.91" />
<ellipse cx="593" cy="916" rx="58.4" ry="110.6" transform="rotate(-18.3 593 916)" fill="#fff" stroke="#111" stroke-width="4.03" />
<ellipse cx="586" cy="919" rx="58.4" ry="111.6" transform="rotate(-18.3 586 919)" fill="#fff" stroke="#111" stroke-width="3.81" />
<ellipse cx="579.6" cy="919.4" rx="41" ry="83" transform="rotate(-18.3 579.6 919.4)" fill="#fff" stroke="#111" stroke-width="2.46" />
<path d="M532.9,891.1 L532.8,887.0 L532.8,882.9 L533.0,878.9 L533.4,875.1 L533.9,871.4 L534.5,867.8 L535.3,864.5 L536.2,861.3 L537.3,858.3 L538.5,855.4 L539.9,852.8 L541.3,850.4 L542.9,848.3 L544.6,846.3 L546.4,844.6 L548.4,843.2 L550.4,841.9 L552.5,841.0 L554.7,840.2 L557.0,839.8 L559.4,839.6 L561.8,839.6 L564.3,839.9 L566.8,840.5 L569.4,841.3 L572.0,842.4 L574.7,843.7 L577.3,845.2 L580.0,847.0 L582.6,849.0 L585.3,851.3 L587.9,853.8 L590.5,856.5 L593.1,859.3 L595.6,862.4 L598.1,865.7 L600.5,869.1 L602.8,872.7 L605.1,876.5 L607.3,880.4" fill="none" stroke="#111" stroke-width="4.7" />
<path d="M613.2,991.9 L610.9,993.5 L608.4,994.7 L605.8,995.5 L603.0,995.9 L600.2,995.9 L597.2,995.5 L594.2,994.6 L591.1,993.4 L587.9,991.7 L584.8,989.7 L581.6,987.3 L578.4,984.5 L575.3,981.4 L572.2,977.9 L569.2,974.2 L566.2,970.1 L563.3,965.8 L560.6,961.2 L557.9,956.4 L555.4,951.4 L553.1,946.2 L550.9,940.9 L548.9,935.5 L547.0,930.0 L545.4,924.5 L544.0,918.9 L542.8,913.4 L541.8,907.9 L541.1,902.4 L540.5,897.1 L540.2,891.9 L540.2,886.9 L540.4,882.0 L540.8,877.4 L541.4,873.0 L542.3,868.8 L543.4,865.0 L544.7,861.5 L546.2,858.3 L548.0,855.4" fill="none" stroke="#111" stroke-width="2.24" />
<ellipse cx="592.7" cy="915" rx="19" ry="41" transform="rotate(-18.3 592.7 915)" fill="#fff" stroke="#111" stroke-width="1.8" />
<path d="M570.6,900.7 L570.5,898.2 L570.6,895.7 L570.7,893.4 L570.9,891.1 L571.2,889.0 L571.7,887.0 L572.2,885.1 L572.9,883.4 L573.6,881.9 L574.4,880.5 L575.4,879.2 L576.4,878.2 L577.4,877.3 L578.6,876.6 L579.8,876.1 L581.1,875.8 L582.5,875.6 L583.9,875.7 L585.3,875.9 L586.8,876.4 L588.3,877.0 L589.8,877.8 L591.3,878.8 L592.9,880.0 L594.4,881.3 L596.0,882.9 L597.5,884.5 L599.0,886.3 L600.5,888.3 L601.9,890.4 L603.3,892.6 L604.6,894.9 L605.9,897.3 L607.1,899.8 L608.2,902.4 L609.3,905.0 L610.3,907.7 L611.2,910.4 L612.0,913.1 L612.7,915.9" fill="none" stroke="#111" stroke-width="5.6" />
<path d="M570.6,845.0 L570.8,845.0 L571.0,845.0 L571.2,845.0 L571.4,845.0 L571.6,845.1 L571.8,845.1 L572.0,845.2 L572.3,845.4 L572.5,845.5 L572.7,845.7 L572.9,845.9 L573.1,846.2 L573.3,846.4 L573.5,846.7 L573.7,846.9 L573.8,847.2 L574.0,847.5 L574.1,847.9 L574.3,848.2 L574.4,848.5 L574.5,848.9 L574.6,849.2 L574.6,849.5 L574.7,849.9 L574.7,850.2 L574.8,850.5 L574.8,850.9 L574.8,851.2 L574.7,851.5 L574.7,851.8 L574.6,852.0 L574.5,852.3 L574.4,852.5 L574.3,852.8 L574.2,852.9 L574.1,853.1 L573.9,853.3 L573.8,853.4 L573.6,853.5 L573.4,853.6" fill="none" stroke="#111" stroke-width="3.36" />
<path d="M554.4,885.5 L554.6,885.5 L554.8,885.5 L555.0,885.5 L555.2,885.5 L555.4,885.6 L555.6,885.6 L555.8,885.7 L556.1,885.9 L556.3,886.0 L556.5,886.2 L556.7,886.4 L556.9,886.7 L557.1,886.9 L557.3,887.2 L557.5,887.4 L557.6,887.7 L557.8,888.0 L557.9,888.4 L558.1,888.7 L558.2,889.0 L558.3,889.4 L558.4,889.7 L558.4,890.0 L558.5,890.4 L558.5,890.7 L558.6,891.0 L558.6,891.4 L558.6,891.7 L558.5,892.0 L558.5,892.3 L558.4,892.5 L558.3,892.8 L558.2,893.0 L558.1,893.3 L558.0,893.4 L557.9,893.6 L557.7,893.8 L557.6,893.9 L557.4,894.0 L557.2,894.1" fill="none" stroke="#111" stroke-width="3.36" />
<path d="M560.6,919.7 L560.8,919.7 L561.0,919.7 L561.2,919.7 L561.4,919.7 L561.6,919.8 L561.8,919.8 L562.0,919.9 L562.3,920.1 L562.5,920.2 L562.7,920.4 L562.9,920.6 L563.1,920.9 L563.3,921.1 L563.5,921.4 L563.7,921.6 L563.8,921.9 L564.0,922.2 L564.1,922.6 L564.3,922.9 L564.4,923.2 L564.5,923.6 L564.6,923.9 L564.6,924.2 L564.7,924.6 L564.7,924.9 L564.8,925.2 L564.8,925.6 L564.8,925.9 L564.7,926.2 L564.7,926.5 L564.6,926.7 L564.5,927.0 L564.4,927.2 L564.3,927.5 L564.2,927.6 L564.1,927.8 L563.9,928.0 L563.8,928.1 L563.6,928.2 L563.4,928.3" fill="none" stroke="#111" stroke-width="3.36" />
<path d="M580.5,958.3 L580.7,958.3 L580.9,958.3 L581.1,958.3 L581.3,958.3 L581.5,958.4 L581.7,958.4 L581.9,958.5 L582.2,958.7 L582.4,958.8 L582.6,959.0 L582.8,959.2 L583.0,959.5 L583.2,959.7 L583.4,960.0 L583.6,960.2 L583.7,960.5 L583.9,960.8 L584.0,961.2 L584.2,961.5 L584.3,961.8 L584.4,962.2 L584.5,962.5 L584.5,962.8 L584.6,963.2 L584.6,963.5 L584.7,963.8 L584.7,964.2 L584.7,964.5 L584.6,964.8 L584.6,965.1 L584.5,965.3 L584.4,965.6 L584.3,965.8 L584.2,966.1 L584.1,966.2 L584.0,966.4 L583.8,966.6 L583.7,966.7 L583.5,966.8 L583.3,966.9" fill="none" stroke="#111" stroke-width="3.36" />
<path d="M610.2,977.2 L610.4,977.2 L610.6,977.2 L610.8,977.2 L611.0,977.2 L611.2,977.3 L611.4,977.3 L611.6,977.4 L611.9,977.6 L612.1,977.7 L612.3,977.9 L612.5,978.1 L612.7,978.4 L612.9,978.6 L613.1,978.9 L613.3,979.1 L613.4,979.4 L613.6,979.7 L613.7,980.1 L613.9,980.4 L614.0,980.7 L614.1,981.1 L614.2,981.4 L614.2,981.7 L614.3,982.1 L614.3,982.4 L614.4,982.7 L614.4,983.1 L614.4,983.4 L614.3,983.7 L614.3,984.0 L614.2,984.2 L614.1,984.5 L614.0,984.7 L613.9,985.0 L613.8,985.1 L613.7,985.3 L613.5,985.5 L613.4,985.6 L613.2,985.7 L613.0,985.8" fill="none" stroke="#111" stroke-width="3.36" />
<ellipse cx="599.5" cy="535" rx="55.3" ry="106.3" transform="rotate(-11.6 599.5 535)" fill="#fff" stroke="#111" stroke-width="2.91" />
<ellipse cx="593" cy="536" rx="56.3" ry="105.3" transform="rotate(-12.6 593 536)" fill="#fff" stroke="#111" stroke-width="4.7" />
<path d="M590.3,433.3 l2.2,-0.6" fill="none" stroke="#111" stroke-width="1.6" />
<path d="M594.6,435.2 l2.2,-0.6" fill="none" stroke="#111" stroke-width="1.6" />
<path d="M598.8,437.6 l2.2,-0.6" fill="none" stroke="#111" stroke-width="1.6" />
<path d="M603.0,440.5 l2.2,-0.6" fill="none" stroke="#111" stroke-width="1.6" />
<path d="M607.2,443.9 l2.2,-0.6" fill="none" stroke="#111" stroke-width="1.6" />
<path d="M611.3,447.7 l2.2,-0.6" fill="none" stroke="#111" stroke-width="1.6" />
<path d="M615.3,451.9 l2.2,-0.6" fill="none" stroke="#111" stroke-width="1.6" />
<path d="M619.3,456.6 l2.2,-0.6" fill="none" stroke="#111" stroke-width="1.6" />
<path d="M623.0,461.6 l2.2,-0.6" fill="none" stroke="#111" stroke-width="1.6" />
<path d="M626.7,467.0 l2.2,-0.6" fill="none" stroke="#111" stroke-width="1.6" />
<path d="M630.1,472.7 l2.2,-0.6" fill="none" stroke="#111" stroke-width="1.6" />
<path d="M633.4,478.8 l2.2,-0.6" fill="none" stroke="#111" stroke-width="1.6" />
<path d="M636.5,485.1 l2.2,-0.6" fill="none" stroke="#111" stroke-width="1.6" />
<path d="M639.4,491.6 l2.2,-0.6" fill="none" stroke="#111" stroke-width="1.6" />
<path d="M642.1,498.4 l2.2,-0.6" fill="none" stroke="#111" stroke-width="1.6" />
<path d="M644.5,505.4 l2.2,-0.6" fill="none" stroke="#111" stroke-width="1.6" />
<path d="M646.7,512.5 l2.2,-0.6" fill="none" stroke="#111" stroke-width="1.6" />
<path d="M648.6,519.7 l2.2,-0.6" fill="none" stroke="#111" stroke-width="1.6" />
<path d="M650.2,527.1 l2.2,-0.6" fill="none" stroke="#111" stroke-width="1.6" />
<path d="M651.5,534.4 l2.2,-0.6" fill="none" stroke="#111" stroke-width="1.6" />
<path d="M652.6,541.8 l2.2,-0.6" fill="none" stroke="#111" stroke-width="1.6" />
<path d="M653.4,549.1 l2.2,-0.6" fill="none" stroke="#111" stroke-width="1.6" />
<path d="M653.9,556.4 l2.2,-0.6" fill="none" stroke="#111" stroke-width="1.6" />
<path d="M654.1,563.5 l2.2,-0.6" fill="none" stroke="#111" stroke-width="1.6" />
<ellipse cx="582" cy="538" rx="56.3" ry="104.8" transform="rotate(-12.6 582 538)" fill="#fff" stroke="#111" stroke-width="3.81" />
<ellipse cx="577.5" cy="528.5" rx="33.7" ry="62.5" transform="rotate(-12.6 577.5 528.5)" fill="#fff" stroke="#111" stroke-width="1.8" />
<path d="M553.4,473.7 L555.7,471.6 L558.1,469.9 L560.6,468.5 L563.3,467.6 L566.0,467.2 L568.9,467.1 L571.8,467.4 L574.7,468.2 L577.6,469.4 L580.6,471.0 L583.5,473.0 L586.4,475.4 L589.2,478.1 L592.0,481.2 L594.6,484.6 L597.1,488.3 L599.5,492.3 L601.8,496.5 L603.8,501.0 L605.7,505.6 L607.4,510.4 L608.9,515.3 L610.2,520.4 L611.3,525.4 L612.1,530.5 L612.7,535.6 L613.0,540.6 L613.1,545.6 L613.0,550.4 L612.6,555.1 L611.9,559.6 L611.1,563.9 L610.0,567.9 L608.6,571.7 L607.1,575.1 L605.4,578.3 L603.4,581.1 L601.3,583.5 L599.1,585.6 L596.6,587.3" fill="none" stroke="#111" stroke-width="4.93" />
<ellipse cx="573.7" cy="538.7" rx="27" ry="52" transform="rotate(-12.6 573.7 538.7)" fill="#fff" stroke="#111" stroke-width="2.91" />
<ellipse cx="572.3" cy="538" rx="15.5" ry="33" transform="rotate(-12.6 572.3 538)" fill="#fff" stroke="#111" stroke-width="1.4" />
<path d="M558.5,511.8 L559.1,510.7 L559.8,509.7 L560.5,508.8 L561.2,508.0 L562.0,507.3 L562.8,506.7 L563.7,506.3 L564.6,505.9 L565.5,505.7 L566.4,505.6 L567.4,505.6 L568.4,505.8 L569.4,506.1 L570.4,506.4 L571.4,507.0 L572.5,507.6 L573.5,508.3 L574.5,509.1 L575.5,510.1 L576.5,511.2 L577.5,512.3 L578.5,513.6 L579.4,514.9 L580.3,516.3 L581.2,517.8 L582.0,519.4 L582.9,521.1 L583.6,522.8 L584.4,524.6 L585.0,526.4 L585.7,528.3 L586.3,530.2 L586.8,532.1 L587.3,534.1 L587.7,536.0 L588.1,538.0 L588.4,540.0 L588.7,542.0 L588.8,543.9 L589.0,545.8" fill="none" stroke="#111" stroke-width="5.6" />
<path d="M560.6,491.4 L560.8,491.4 L561.0,491.4 L561.2,491.4 L561.4,491.5 L561.6,491.6 L561.7,491.7 L561.9,491.8 L562.1,492.0 L562.3,492.1 L562.5,492.3 L562.7,492.6 L562.8,492.8 L563.0,493.1 L563.2,493.4 L563.3,493.7 L563.4,494.0 L563.6,494.3 L563.7,494.6 L563.8,495.0 L563.8,495.3 L563.9,495.6 L564.0,496.0 L564.0,496.3 L564.0,496.7 L564.0,497.0 L564.0,497.3 L564.0,497.7 L564.0,498.0 L563.9,498.3 L563.9,498.6 L563.8,498.8 L563.7,499.1 L563.6,499.3 L563.5,499.5 L563.4,499.7 L563.2,499.8 L563.1,500.0 L562.9,500.1 L562.8,500.1 L562.6,500.2" fill="none" stroke="#111" stroke-width="3.14" />
<path d="M594.5,539.9 L594.7,539.9 L594.9,539.9 L595.1,539.9 L595.3,540.0 L595.5,540.1 L595.6,540.2 L595.8,540.3 L596.0,540.5 L596.2,540.6 L596.4,540.8 L596.6,541.1 L596.7,541.3 L596.9,541.6 L597.1,541.9 L597.2,542.2 L597.3,542.5 L597.5,542.8 L597.6,543.1 L597.7,543.5 L597.7,543.8 L597.8,544.1 L597.9,544.5 L597.9,544.8 L597.9,545.2 L597.9,545.5 L597.9,545.8 L597.9,546.2 L597.9,546.5 L597.8,546.8 L597.8,547.1 L597.7,547.3 L597.6,547.6 L597.5,547.8 L597.4,548.0 L597.3,548.2 L597.1,548.3 L597.0,548.5 L596.8,548.6 L596.7,548.6 L596.5,548.7" fill="none" stroke="#111" stroke-width="3.14" />
<path d="M580.0,575.1 L580.2,575.1 L580.4,575.1 L580.6,575.1 L580.8,575.2 L581.0,575.3 L581.1,575.4 L581.3,575.5 L581.5,575.7 L581.7,575.8 L581.9,576.0 L582.1,576.3 L582.2,576.5 L582.4,576.8 L582.6,577.1 L582.7,577.4 L582.8,577.7 L583.0,578.0 L583.1,578.3 L583.2,578.7 L583.2,579.0 L583.3,579.3 L583.4,579.7 L583.4,580.0 L583.4,580.4 L583.4,580.7 L583.4,581.0 L583.4,581.4 L583.4,581.7 L583.3,582.0 L583.3,582.3 L583.2,582.5 L583.1,582.8 L583.0,583.0 L582.9,583.2 L582.8,583.4 L582.6,583.5 L582.5,583.7 L582.3,583.8 L582.2,583.8 L582.0,583.9" fill="none" stroke="#111" stroke-width="3.14" />
<path d="M548.8,532.2 L549.0,532.2 L549.2,532.2 L549.4,532.2 L549.6,532.3 L549.8,532.4 L549.9,532.5 L550.1,532.6 L550.3,532.8 L550.5,532.9 L550.7,533.1 L550.9,533.4 L551.0,533.6 L551.2,533.9 L551.4,534.2 L551.5,534.5 L551.6,534.8 L551.8,535.1 L551.9,535.4 L552.0,535.8 L552.0,536.1 L552.1,536.4 L552.2,536.8 L552.2,537.1 L552.2,537.5 L552.2,537.8 L552.2,538.1 L552.2,538.5 L552.2,538.8 L552.1,539.1 L552.1,539.4 L552.0,539.6 L551.9,539.9 L551.8,540.1 L551.7,540.3 L551.6,540.5 L551.4,540.6 L551.3,540.8 L551.1,540.9 L551.0,540.9 L550.8,541.0" fill="none" stroke="#111" stroke-width="3.14" />
<path d="M577.5,483.4 L573,487 M601,584.4 L597,580" fill="none" stroke="#111" stroke-width="2.69" />
<path d="M619.3,604.2 L618.7,605.3 L618.1,606.3 L617.4,607.3 L616.8,608.2 L616.1,609.2 L615.4,610.1 L614.6,610.9 L613.9,611.8 L613.2,612.5 L612.4,613.3 L611.6,614.0 L610.8,614.7 L610.0,615.3 L609.2,616.0 L608.3,616.5 L607.5,617.1 L606.6,617.6 L605.8,618.0 L604.9,618.4 L604.0,618.8 L603.1,619.2 L602.2,619.5 L601.3,619.7 L600.3,620.0 L599.4,620.2 L598.4,620.3 L597.5,620.4 L596.5,620.5 L595.5,620.5 L594.6,620.5 L593.6,620.5 L592.6,620.4 L591.6,620.3 L590.6,620.1 L589.6,619.9 L588.6,619.7 L587.6,619.4 L586.6,619.1 L585.5,618.7 L584.5,618.3" fill="none" stroke="#111" stroke-width="1.2" />
<path d="M119.5,431 L126,427.5 L137,428 L139.5,432 L139.5,444 L134,448.5 L124,448.5 L119.5,444 Z" fill="#fff" stroke="#111" stroke-width="3.58" />
<ellipse cx="124.5" cy="438" rx="4" ry="8.5" transform="rotate(0 124.5 438)" fill="#fff" stroke="#111" stroke-width="2.69" />
<path d="M131,430 L131,447 M136,430 Q139,438 134,447" fill="none" stroke="#111" stroke-width="3.81" />
<path d="M139.5,431.5 L161,431 M139.5,439.5 L161,438.5" fill="none" stroke="#111" stroke-width="1.6" />
<path d="M142.1,439.0 L141.9,431.6 M145.1,439.0 L144.9,431.5 M148.1,438.9 L147.9,431.4 M151.1,438.8 L150.9,431.3 M154.1,438.7 L153.9,431.2 M157.1,438.6 L156.9,431.1 M160.1,438.5 L159.9,431.1 " fill="none" stroke="#111" stroke-width="2.24" />
<path d="M162,430 Q165.5,434.5 162,439" fill="none" stroke="#111" stroke-width="3.58" />
<line x1="165" y1="431.7" x2="180" y2="432" stroke="#111" stroke-width="1.6" />
<path d="M180.7,432 L180.7,484" fill="none" stroke="#111" stroke-width="4.48" stroke-dasharray="9 5 14 5.5 16.5 5" style="stroke-linecap:butt"/>
<line x1="180.5" y1="485" x2="85" y2="497" stroke="#111" stroke-width="1.8" />
<path d="M84.7,497 L84.7,604" fill="none" stroke="#111" stroke-width="4.7" stroke-dasharray="18 6 23.5 6 20 5 27 9" style="stroke-linecap:butt"/>
<line x1="84.7" y1="604" x2="93" y2="603" stroke="#111" stroke-width="1.6" />
<path d="M115.9,550.7 L119.7,549.9 L123.6,549.6 L127.6,550.0 L131.6,550.9 L135.7,552.5 L139.7,554.6 L143.7,557.2 L147.7,560.5 L151.5,564.2 L155.2,568.4 L158.7,573.1 L162.0,578.2 L165.1,583.7 L167.9,589.5 L170.5,595.5 L172.7,601.8 L174.7,608.3 L176.3,615.0 L177.6,621.7 L178.6,628.4 L179.2,635.1 L179.4,641.8 L179.3,648.3 L178.8,654.6 L178.0,660.7 L176.8,666.4 L175.2,671.9 L173.3,677.0 L171.2,681.7 L168.7,685.9 L165.9,689.6 L162.9,692.8 L159.6,695.5 L156.2,697.6 L152.6,699.1 L148.8,700.0 L144.9,700.4 L140.9,700.1 L136.9,699.2 L132.8,697.8" fill="none" stroke="#111" stroke-width="3.58" />
<path d="M162.6,594.9 L163.5,597.1 L164.4,599.4 L165.3,601.7 L166.1,604.0 L166.9,606.4 L167.6,608.8 L168.3,611.2 L169.0,613.6 L169.6,616.0 L170.1,618.5 L170.6,620.9 L171.1,623.4 L171.4,625.9 L171.8,628.4 L172.1,630.8 L172.3,633.3 L172.5,635.8 L172.7,638.2 L172.8,640.7 L172.8,643.1 L172.8,645.5 L172.7,647.9 L172.6,650.2 L172.4,652.5 L172.2,654.8 L171.9,657.1 L171.6,659.3 L171.2,661.5 L170.8,663.6 L170.3,665.7 L169.8,667.8 L169.2,669.8 L168.6,671.7 L168.0,673.6 L167.2,675.5 L166.5,677.2 L165.7,679.0 L164.8,680.6 L163.9,682.2 L163.0,683.7" fill="none" stroke="#111" stroke-width="1.4" />
<path d="M97.4,565.7 L101.5,561.5 L114.0,559.2 L118.1,553.2 L125.1,550.7 L129.9,554.6 L134.0,569.8 L136.1,586.4 L137.5,592.0 L141.7,580.9 L148.6,577.4 L155.5,589.2 L154.8,604.4 L151.3,608.6 L152.0,615.5 L156.9,621.0 L165.2,626.6 L169.3,637.6 L168.2,651.5 L163.1,652.9 L165.9,671.6 L156.9,675.0 L155.5,689.6 L144.4,697.2 L129.2,696.5 L122.3,686.1 L119.5,675.0 L112.6,666.7 L101.5,658.4 L93.2,644.6 L85.6,630.7 L85.2,615.5 L91.8,606.5 L96.3,603.0 L99.4,582.3 Z" fill="#fff" stroke="#111" stroke-width="3.36" />
<path d="M100.1,567.1 L105.7,565.7 L111.2,571.2 L115.4,597.5" fill="none" stroke="#111" stroke-width="2.46" />
<path d="M114.7,560.1 L125.1,559.4 L131.3,567.1" fill="none" stroke="#111" stroke-width="1.8" />
<path d="M101.5,601.9 L118.1,598.2 L137.5,594.0" fill="none" stroke="#111" stroke-width="2.91" />
<ellipse cx="104.98269896193773" cy="573.2871972318339" rx="2.2" ry="3.5" transform="rotate(0 104.98269896193773 573.2871972318339)" fill="none" stroke="#111" stroke-width="2.46" />
<ellipse cx="145.12110726643598" cy="590.5882352941177" rx="4.5" ry="8.5" transform="rotate(-12 145.12110726643598 590.5882352941177)" fill="#fff" stroke="#111" stroke-width="3.81" />
<ellipse cx="146.0899653979239" cy="591.280276816609" rx="2" ry="5" transform="rotate(-12 146.0899653979239 591.280276816609)" fill="#111" stroke="#111" stroke-width="2.91" />
<path d="M137.5,592.0 L140.3,597.5 L148.6,601.7" fill="none" stroke="#111" stroke-width="2.24" />
<path d="M96.3,603.0 L105.7,600.3 L118.1,598.9 L125.1,615.5 L129.2,637.6 L125.1,652.9 L116.7,659.8" fill="none" stroke="#111" stroke-width="2.69" />
<ellipse cx="109.8" cy="631.4" rx="15.2" ry="28.4" transform="rotate(-10 109.8 631.4)" fill="#fff" stroke="#111" stroke-width="3.36" />
<ellipse cx="110.5" cy="632.5" rx="10.5" ry="22" transform="rotate(-10 110.5 632.5)" fill="#fff" stroke="#111" stroke-width="5.6" />
<ellipse cx="109.5" cy="634" rx="6" ry="16" transform="rotate(-10 109.5 634)" fill="#fff" stroke="#111" stroke-width="1.6" />
<path d="M102,640 L112,637" fill="none" stroke="#111" stroke-width="1.4" />
<path d="M89.8,610.0 L87.7,619.7 L89.8,630.7 L96.0,641.8" fill="none" stroke="#111" stroke-width="2.46" />
<path d="M129.2,622.4 L140.3,626.6 L145.8,634.9" fill="none" stroke="#111" stroke-width="1.6" />
<path d="M141.0,639.0 L143.0,638.3 L143.5,644.6" fill="none" stroke="#111" stroke-width="2.91" />
<path d="M136.8,657.0 L145.8,656.3 L150.0,652.9 L163.1,652.9" fill="none" stroke="#111" stroke-width="2.69" />
<path d="M136.8,657.0 L134.7,672.2 L137.5,690.2" fill="none" stroke="#111" stroke-width="2.91" />
<path d="M152.0,659.8 L156.9,658.4 L157.6,670.9" fill="none" stroke="#111" stroke-width="3.81" />
<path d="M160.3,659.8 L163.1,670.2" fill="none" stroke="#111" stroke-width="2.91" />
<ellipse cx="127.82006920415225" cy="684.7058823529412" rx="3" ry="3.5" transform="rotate(0 127.82006920415225 684.7058823529412)" fill="#333" stroke="#111" stroke-width="2.91" />
<path d="M173.5,634.9 L176.3,658.4 L170.7,679.2" fill="none" stroke="#111" stroke-width="1.4" />
<text x="0" y="0" font-size="21" fill="#888" text-anchor="middle" transform="translate(139.5,405.5) scale(0.72,1)">21</text>
<line x1="139.2" y1="409" x2="139.2" y2="428" stroke="#777" stroke-width="1.4" />
<text x="0" y="0" font-size="20" fill="#444" text-anchor="middle" transform="translate(162,542.5) scale(0.78,1)">20</text>
<line x1="161.7" y1="546.5" x2="161" y2="567" stroke="#222" stroke-width="1.6" />
<line x1="181" y1="615.5" x2="193" y2="613.4" stroke="#333" stroke-width="1.4" />
<path d="M204,597 L215,595.5 L221,600 L222.5,613 L218,622 L207,624.5 L200.5,618 L199.5,604 Z" fill="#fff" stroke="#111" stroke-width="3.58" />
<path d="M209,603 L213,610 L209,618 M213,610 L221,608" fill="none" stroke="#111" stroke-width="1.6" />
<path d="M211,616 l2,-4 l2,5 z" fill="#111" stroke="#111" stroke-width="1.5" />
<path d="M222.5,599.5 L296,587.5 Q299.5,593 297,600 L224,611.5" fill="#fff" stroke="#111" stroke-width="2.46" />
<path d="M227.9,610.3 L228.1,599.7 M231.9,609.7 L232.1,599.0 M235.9,609.0 L236.1,598.3 M239.9,608.3 L240.1,597.6 M243.9,607.6 L244.1,596.9 M247.9,606.9 L248.1,596.3 M251.9,606.3 L252.1,595.6 M255.9,605.6 L256.1,594.9 M259.9,604.9 L260.1,594.2 M263.9,604.2 L264.1,593.5 M267.9,603.5 L268.1,592.9 M271.9,602.9 L272.1,592.2 M275.9,602.2 L276.1,591.5 M279.9,601.5 L280.1,590.8 M283.9,600.8 L284.1,590.1 M287.9,600.1 L288.1,589.5 " fill="none" stroke="#111" stroke-width="1.7" />
<path d="M289,589 L297,588 Q299.5,593 297,600 L290,601 Z" fill="#111" stroke="#111" stroke-width="1.5" />
<text x="0" y="0" font-size="19" fill="#333" text-anchor="middle" transform="translate(238.5,569) scale(0.85,1)">5</text>
<line x1="236.7" y1="576" x2="237.2" y2="596.5" stroke="#222" stroke-width="1.6" />
<line x1="190" y1="613.8" x2="198" y2="612.8" stroke="#555" stroke-width="1.2" />
<line x1="302" y1="590.5" x2="308" y2="589.6" stroke="#555" stroke-width="1.2" />
<ellipse cx="319.6" cy="587.5" rx="8.6" ry="12.6" transform="rotate(-12 319.6 587.5)" fill="#fff" stroke="#111" stroke-width="3.58" />
<ellipse cx="319.5" cy="586.5" rx="4.2" ry="7.2" transform="rotate(-12 319.5 586.5)" fill="#fff" stroke="#111" stroke-width="3.81" />
<path d="M316,592 Q320,598 325,593" fill="none" stroke="#111" stroke-width="3.58" />
<line x1="329.5" y1="585.3" x2="334" y2="584.6" stroke="#555" stroke-width="1.2" />
<line x1="321.7" y1="603.5" x2="322.5" y2="617.6" stroke="#222" stroke-width="1.6" />
<text x="0" y="0" font-size="18" fill="#333" text-anchor="middle" transform="translate(322.5,636) scale(0.8,1)">7</text>
<ellipse cx="347.6" cy="580.3" rx="13" ry="20.6" transform="rotate(-12 347.6 580.3)" fill="#fff" stroke="#111" stroke-width="3.14" />
<ellipse cx="347.8" cy="581" rx="3.4" ry="7.6" transform="rotate(-10 347.8 581)" fill="#111" stroke="#111" stroke-width="1.5" />
<line x1="334" y1="584.6" x2="344.5" y2="583" stroke="#555" stroke-width="1.2" />
<line x1="347.2" y1="544.5" x2="347.2" y2="560" stroke="#222" stroke-width="1.6" />
<text x="0" y="0" font-size="18" fill="#333" text-anchor="middle" transform="translate(347.4,538.5) scale(0.85,1)">6</text>
<ellipse cx="386.3" cy="572" rx="13.2" ry="25.8" transform="rotate(-12 386.3 572)" fill="#fff" stroke="#111" stroke-width="1.8" />
<ellipse cx="383.2" cy="572.3" rx="12.6" ry="25.2" transform="rotate(-12 383.2 572.3)" fill="#fff" stroke="#111" stroke-width="3.58" />
<ellipse cx="383.8" cy="573" rx="9.2" ry="21.3" transform="rotate(-12 383.8 573)" fill="#fff" stroke="#111" stroke-width="1.6" />
<path d="M380.5,548.5 L382.5,553" fill="none" stroke="#fff" stroke-width="1.6" />
<line x1="378" y1="575.5" x2="383" y2="575" stroke="#555" stroke-width="1.2" />
<line x1="387.6" y1="523.6" x2="388.1" y2="546" stroke="#222" stroke-width="1.6" />
<text x="0" y="0" font-size="16" fill="#333" text-anchor="middle" transform="translate(388,516.5) scale(0.85,1)">4</text>
<ellipse cx="452" cy="561" rx="18" ry="34.5" transform="rotate(-12 452 561)" fill="#fff" stroke="#111" stroke-width="2.91" />
<path d="M427.5,531.5 L451,528 L460,594 L434,600 Z" fill="#fff" stroke="#fff" stroke-width="0.1" />
<path d="M427.5,531.5 L451.5,527.8 M434,600.3 L459,594" fill="none" stroke="#111" stroke-width="2.91" />
<ellipse cx="427" cy="566" rx="17.5" ry="34.4" transform="rotate(-12 427 566)" fill="#fff" stroke="#111" stroke-width="3.36" />
<ellipse cx="426.9" cy="566.3" rx="13.6" ry="27.5" transform="rotate(-12 426.9 566.3)" fill="#fff" stroke="#111" stroke-width="5.6" />
<ellipse cx="440.2" cy="563.5" rx="1.3" ry="1.6" transform="rotate(0 440.2 563.5)" fill="#fff" stroke="#fff" stroke-width="0.1" />
<ellipse cx="441.2" cy="578.2" rx="1.3" ry="1.6" transform="rotate(0 441.2 578.2)" fill="#fff" stroke="#fff" stroke-width="0.1" />
<ellipse cx="437.9" cy="589.2" rx="1.3" ry="1.6" transform="rotate(0 437.9 589.2)" fill="#fff" stroke="#fff" stroke-width="0.1" />
<ellipse cx="431.2" cy="593.3" rx="1.3" ry="1.6" transform="rotate(0 431.2 593.3)" fill="#fff" stroke="#fff" stroke-width="0.1" />
<ellipse cx="423.2" cy="589.2" rx="1.3" ry="1.6" transform="rotate(0 423.2 589.2)" fill="#fff" stroke="#fff" stroke-width="0.1" />
<ellipse cx="416.4" cy="578.2" rx="1.3" ry="1.6" transform="rotate(0 416.4 578.2)" fill="#fff" stroke="#fff" stroke-width="0.1" />
<ellipse cx="412.7" cy="563.5" rx="1.3" ry="1.6" transform="rotate(0 412.7 563.5)" fill="#fff" stroke="#fff" stroke-width="0.1" />
<ellipse cx="413.4" cy="549.6" rx="1.3" ry="1.6" transform="rotate(0 413.4 549.6)" fill="#fff" stroke="#fff" stroke-width="0.1" />
<ellipse cx="418.1" cy="540.9" rx="1.3" ry="1.6" transform="rotate(0 418.1 540.9)" fill="#fff" stroke="#fff" stroke-width="0.1" />
<ellipse cx="425.6" cy="539.8" rx="1.3" ry="1.6" transform="rotate(0 425.6 539.8)" fill="#fff" stroke="#fff" stroke-width="0.1" />
<ellipse cx="433.4" cy="546.8" rx="1.3" ry="1.6" transform="rotate(0 433.4 546.8)" fill="#fff" stroke="#fff" stroke-width="0.1" />
<ellipse cx="439.3" cy="559.8" rx="1.3" ry="1.6" transform="rotate(0 439.3 559.8)" fill="#fff" stroke="#fff" stroke-width="0.1" />
<ellipse cx="426" cy="567" rx="8.6" ry="18.4" transform="rotate(-12 426 567)" fill="#fff" stroke="#111" stroke-width="3.81" />
<path d="M423.2,553.8 L423.6,553.9 L424.1,554.1 L424.6,554.4 L425.1,554.7 L425.6,555.1 L426.0,555.6 L426.5,556.2 L427.0,556.8 L427.4,557.5 L427.9,558.2 L428.3,558.9 L428.7,559.8 L429.1,560.6 L429.5,561.5 L429.8,562.5 L430.1,563.4 L430.4,564.4 L430.7,565.4 L430.9,566.4 L431.1,567.5 L431.3,568.5 L431.4,569.5 L431.5,570.5 L431.5,571.5 L431.6,572.4 L431.5,573.4 L431.5,574.3 L431.4,575.1 L431.3,576.0 L431.1,576.8 L430.9,577.5 L430.7,578.2 L430.4,578.8 L430.2,579.3 L429.8,579.8 L429.5,580.2 L429.1,580.6 L428.7,580.9 L428.3,581.1 L427.9,581.2" fill="none" stroke="#111" stroke-width="1.4" />
<line x1="453" y1="508" x2="454" y2="528.4" stroke="#222" stroke-width="1.6" />
<text x="0" y="0" font-size="21" fill="#333" text-anchor="middle" transform="translate(454,501) scale(0.68,1)">3</text>
<path d="M750.4,489.8 L752.5,482.9 L754.9,477.1 L758.0,472.1 L762.4,467.3 L767.7,463.8 L774.3,461.2 L781.5,459.4 L789.8,458.0 L798.1,457.3 L805.1,457.6 L810.6,458.7 L853.5,482.9 L896.4,510.6 L900.6,511.3 L908.2,513.4 L912.3,520.3 L910.9,528.6 L907.8,531.3 L908.8,591.1 L913.6,592.5 L920.6,603.5 L919.2,616.0 L915.3,620.4 L916.4,676.9 L923.3,679.7 L928.2,690.7 L924.7,704.6 L884.6,716.3 L876.3,711.5 L872.8,701.8 L872.1,704.6 L825.1,697.6 L820.9,701.8 L812.6,705.3 L806.4,699.0 L804.6,689.3 L807.8,679.7 L815.4,675.5 L816.7,631.2 L801.5,620.1 L791.8,620.1 L785.6,613.2 L784.9,600.8 L789.8,595.2 L800.9,588.1 L760.8,523.0 L753.1,514.7 L749.4,507.1 L748.3,498.1 Z" fill="#fff" stroke="#111" stroke-width="3.36" />
<path d="M760.8,523.0 L773.2,531.3 L785.7,534.1 L792.6,528.6 L798.1,502.3" fill="none" stroke="#111" stroke-width="5.04" />
<path d="M781.5,471.8 L787.1,478.8 L790.5,485.7" fill="none" stroke="#111" stroke-width="1.4" />
<path d="M769.1,480.1 L778.8,485.7 L782.9,499.5 L780.1,512.0 L773.2,517.5 L767.7,517.5" fill="none" stroke="#111" stroke-width="2.69" />
<ellipse cx="758" cy="500.9" rx="9.7" ry="16.6" transform="rotate(-8 758 500.9)" fill="#fff" stroke="#111" stroke-width="3.58" />
<ellipse cx="757.8" cy="500.5" rx="4.2" ry="9.2" transform="rotate(-8 757.8 500.5)" fill="#222" stroke="#111" stroke-width="4.03" />
<ellipse cx="756.5" cy="499" rx="1.2" ry="3.5" transform="rotate(-8 756.5 499)" fill="#fff" stroke="#fff" stroke-width="0.1" />
<path d="M771.8,536.9 L798.1,578.4" fill="none" stroke="#111" stroke-width="3.81" />
<path d="M795.4,535.5 L805.1,590.9" fill="none" stroke="#111" stroke-width="6.16" />
<path d="M802.3,528.6 L813.4,590.9" fill="none" stroke="#111" stroke-width="1.8" />
<path d="M796.7,500.9 L870.1,603.3 L876.3,597.8 L806.4,498.1 Z" fill="#fff" stroke="#111" stroke-width="1.2" />
<path d="M798.1,502.3 L869.4,601.9" fill="none" stroke="#111" stroke-width="7.28" />
<path d="M809.2,503.0 L876.3,597.1" fill="none" stroke="#111" stroke-width="1.4" />
<path d="M803.0,535.5 L860.4,603.3" fill="none" stroke="#111" stroke-width="7.28" />
<path d="M807.8,528.6 L865.3,599.2" fill="none" stroke="#111" stroke-width="1.4" />
<path d="M805.1,517.5 L812.0,524.4 L800.9,530.0" fill="none" stroke="#111" stroke-width="1.6" />
<path d="M877.0,597.1 L907.5,592.2" fill="none" stroke="#111" stroke-width="2.69" />
<ellipse cx="906.0899653979238" cy="521.6608996539792" rx="4.5" ry="9.5" transform="rotate(-15 906.0899653979238 521.6608996539792)" fill="#fff" stroke="#111" stroke-width="3.81" />
<path d="M809.2,553.5 L836.9,589.5 L812.0,590.9 Z" fill="#ddd" stroke="#ddd" stroke-width="0.1" />
<path d="M801.5,595.2 L848.6,607.7 L850.0,627.1 L809.8,614.6 Z" fill="#fff" stroke="#fff" stroke-width="0.1" />
<path d="M805.7,598.0 L848.6,609.1" fill="none" stroke="#111" stroke-width="2.69" />
<path d="M808.4,612.5 L848.6,626.4" fill="none" stroke="#111" stroke-width="6.72" />
<path d="M807.1,604.9 L847.2,617.4" fill="none" stroke="#999" stroke-width="1.2" />
<ellipse cx="791.8" cy="606.3" rx="7.6" ry="12.6" transform="rotate(-8 791.8 606.3)" fill="#fff" stroke="#111" stroke-width="3.58" />
<ellipse cx="791.5" cy="606.5" rx="3.4" ry="7" transform="rotate(-8 791.5 606.5)" fill="#222" stroke="#111" stroke-width="3.81" />
<ellipse cx="790.5" cy="605.5" rx="1" ry="2.6" transform="rotate(-8 790.5 605.5)" fill="#fff" stroke="#fff" stroke-width="0.1" />
<ellipse cx="854.8" cy="617.6" rx="8" ry="12" transform="rotate(-8 854.8 617.6)" fill="#fff" stroke="#111" stroke-width="3.58" />
<ellipse cx="854.6" cy="618" rx="3.4" ry="6.6" transform="rotate(-8 854.6 618)" fill="#222" stroke="#111" stroke-width="3.81" />
<ellipse cx="853.6" cy="617" rx="1" ry="2.6" transform="rotate(-8 853.6 617)" fill="#fff" stroke="#fff" stroke-width="0.1" />
<path d="M856.9,606.3 L874.9,597.3" fill="none" stroke="#111" stroke-width="2.46" />
<path d="M862.4,628.4 L870.7,629.8 L877.6,635.4" fill="none" stroke="#111" stroke-width="2.91" />
<path d="M835.4,627.1 L836.1,681.0" fill="none" stroke="#111" stroke-width="3.58" />
<path d="M835.4,627.1 L848.6,626.4" fill="none" stroke="#111" stroke-width="2.69" />
<path d="M816.7,631.2 L835.4,627.1" fill="none" stroke="#111" stroke-width="2.69" />
<path d="M874.9,635.4 L880.4,640.9 L881.1,646.4 L876.3,649.2 L883.9,652.0 L885.3,658.9 L882.5,666.5 L877.6,668.6 L883.9,672.0 L881.1,676.9 L885.3,681.0 L888.7,683.1" fill="none" stroke="#111" stroke-width="3.36" />
<path d="M890.8,646.4 L889.4,683.1" fill="none" stroke="#111" stroke-width="2.91" />
<path d="M877.6,635.4 L890.1,645.1" fill="none" stroke="#111" stroke-width="3.81" />
<ellipse cx="848.6" cy="665.8" rx="7" ry="10.7" transform="rotate(-5 848.6 665.8)" fill="#fff" stroke="#111" stroke-width="1.6" />
<path d="M847,655 Q843,664 848,673" fill="none" stroke="#111" stroke-width="3.81" />
<path d="M915.3,620.4 L906.7,625.7" fill="none" stroke="#111" stroke-width="1.4" />
<path d="M916.4,676.9 L891.5,683.1" fill="none" stroke="#111" stroke-width="2.91" />
<path d="M898.4,688.0 L896.3,699.0 L898.4,708.7" fill="none" stroke="#111" stroke-width="1.6" />
<path d="M822.3,683.1 L873.5,690.7" fill="none" stroke="#111" stroke-width="2.69" />
<path d="M825.1,698.3 L872.1,705.3" fill="none" stroke="#111" stroke-width="6.72" />
<path d="M823.7,689.3 L872.8,697.0" fill="none" stroke="#999" stroke-width="1.2" />
<ellipse cx="813.3" cy="692.1" rx="9" ry="14.2" transform="rotate(-8 813.3 692.1)" fill="#fff" stroke="#111" stroke-width="3.58" />
<ellipse cx="813.3" cy="692.5" rx="4.2" ry="8" transform="rotate(-8 813.3 692.5)" fill="#222" stroke="#111" stroke-width="4.03" />
<ellipse cx="812.3" cy="691.5" rx="1.2" ry="3" transform="rotate(-8 812.3 691.5)" fill="#fff" stroke="#fff" stroke-width="0.1" />
<ellipse cx="881.8" cy="701.3" rx="9.3" ry="14.8" transform="rotate(-8 881.8 701.3)" fill="#fff" stroke="#111" stroke-width="3.58" />
<ellipse cx="881.3" cy="701.8" rx="4.2" ry="8" transform="rotate(-8 881.3 701.8)" fill="#222" stroke="#111" stroke-width="4.03" />
<ellipse cx="880.3" cy="700.8" rx="1.2" ry="3" transform="rotate(-8 880.3 700.8)" fill="#fff" stroke="#fff" stroke-width="0.1" />
<path d="M886.9,684.3 L887.6,684.3 L888.3,684.3 L889.0,684.4 L889.7,684.6 L890.4,684.9 L891.1,685.2 L891.8,685.6 L892.4,686.1 L893.1,686.7 L893.7,687.3 L894.3,688.0 L894.9,688.8 L895.4,689.6 L895.9,690.4 L896.3,691.4 L896.8,692.3 L897.1,693.3 L897.5,694.3 L897.8,695.4 L898.0,696.4 L898.2,697.5 L898.3,698.6 L898.4,699.7 L898.4,700.8 L898.4,701.9 L898.3,702.9 L898.2,704.0 L898.1,705.0 L897.8,706.0 L897.6,706.9 L897.2,707.8 L896.9,708.6 L896.5,709.4 L896.0,710.2 L895.5,710.9 L895.0,711.5 L894.5,712.0 L893.9,712.5 L893.3,712.9 L892.6,713.2" fill="none" stroke="#111" stroke-width="2.24" />
<text x="0" y="0" font-size="19" fill="#222" text-anchor="middle" transform="translate(811.5,418.5) scale(0.85,1)">1</text>
<line x1="811.3" y1="424" x2="811.3" y2="474" stroke="#222" stroke-width="1.8" />
<path d="M754.5,616.8 L775,615.4" fill="none" stroke="#111" stroke-width="5.6" style="stroke-linecap:butt"/>
<path d="M782,620.9 L804,621.6" fill="none" stroke="#111" stroke-width="5.15" style="stroke-linecap:butt"/>
<line x1="775" y1="615.2" x2="786" y2="613.5" stroke="#333" stroke-width="1.4" />
<line x1="770" y1="622.5" x2="782" y2="621" stroke="#555" stroke-width="1.2" />
<path d="M725.3,657.7 L805.3,640.4 L806.0,634.1 L802.7,628.6 L722.7,645.9 L722.0,652.2 Z" fill="#fff" stroke="#111" stroke-width="1.8" />
<path d="M727.1,656.8 L726.5,645.6 L730.5,656.0 L729.9,644.9 L733.9,655.3 L733.2,644.2 L737.3,654.6 L736.6,643.4 L740.6,653.8 L740.0,642.7 L744.0,653.1 L743.4,642.0 L747.4,652.4 L746.7,641.3 L750.8,651.6" fill="none" stroke="#888" stroke-width="1.8" />
<path d="M789.2,643.3 L788.7,632.2 L792.8,642.6 L792.3,631.4 L796.4,641.8 L795.9,630.6 L800.1,641.0 L799.6,629.8 L803.7,640.2" fill="none" stroke="#111" stroke-width="2.46" />
<text x="0" y="0" font-size="18" fill="#333" text-anchor="middle" transform="translate(742,595.5) scale(0.85,1)">9</text>
<line x1="740.9" y1="602" x2="739.9" y2="646" stroke="#333" stroke-width="1.5" />
<line x1="716" y1="653.5" x2="722" y2="652.4" stroke="#777" stroke-width="1.2" />
<ellipse cx="694.2" cy="659" rx="12.2" ry="12.6" transform="rotate(-10 694.2 659)" fill="#fff" stroke="#666" stroke-width="1.8" />
<path d="M696.2,670.2 L695.7,670.1 L695.3,670.0 L694.8,669.8 L694.3,669.5 L693.8,669.3 L693.4,668.9 L692.9,668.5 L692.5,668.1 L692.0,667.6 L691.6,667.1 L691.2,666.5 L690.9,665.9 L690.5,665.3 L690.2,664.6 L689.9,663.9 L689.6,663.2 L689.4,662.5 L689.2,661.7 L689.0,660.9 L688.8,660.2 L688.7,659.4 L688.6,658.6 L688.5,657.8 L688.5,657.0 L688.5,656.3 L688.6,655.5 L688.7,654.8 L688.8,654.1 L688.9,653.4 L689.1,652.7 L689.3,652.1 L689.5,651.5 L689.8,650.9 L690.1,650.4 L690.4,649.9 L690.8,649.5 L691.1,649.1 L691.5,648.7 L691.9,648.4 L692.3,648.2" fill="none" stroke="#666" stroke-width="1.4400000000000002" />
<ellipse cx="688.1" cy="660.26" rx="2.44" ry="4.409999999999999" transform="rotate(-10 688.1 660.26)" fill="#fff" stroke="#666" stroke-width="1.08" />
<path d="M694.8,647.7 L697.9,653.3" fill="none" stroke="#666" stroke-width="0.9" />
<path d="M683.5,651 Q680.5,660 685,669 L691,671.5" fill="none" stroke="#111" stroke-width="3.58" />
<text x="0" y="0" font-size="20" fill="#a8a8a8" text-anchor="middle" transform="translate(693.2,613.5) scale(0.72,1)">12</text>
<line x1="692.8" y1="620" x2="692.8" y2="645" stroke="#999" stroke-width="1.2" />
<path d="M708.5,722.9 L798.0,701.3 L798.4,694.7 L795.0,689.1 L705.5,710.7 L705.1,717.3 Z" fill="#fff" stroke="#111" stroke-width="2.46" />
<path d="M711.2,721.4 L797.8,700.5" fill="none" stroke="#111" stroke-width="3.81" />
<path d="M710.3,721.9 L709.4,710.3 L714.0,721.0 L713.2,709.4 L717.7,720.1 L716.9,708.5 L721.4,719.2 L720.6,707.6 L725.1,718.3 L724.3,706.7 L728.8,717.5 L728.0,705.8 L732.5,716.6" fill="none" stroke="#111" stroke-width="1.8" />
<path d="M775.5,706.2 L774.5,694.6 L779.0,705.3 L778.0,693.7 L782.4,704.5 L781.5,692.9 L785.9,703.7 L785.0,692.1 L789.4,702.8 L788.5,691.2 L792.9,702.0 L791.9,690.4 L796.4,701.1" fill="none" stroke="#111" stroke-width="2.46" />
<ellipse cx="693.3" cy="721.2" rx="13.5" ry="13.8" transform="rotate(-10 693.3 721.2)" fill="#fff" stroke="#111" stroke-width="4.03" />
<path d="M694.5,734.9 L692.9,735.0 L691.2,734.8 L689.6,734.4 L688.0,733.8 L686.5,733.1 L685.1,732.1 L683.9,731.0 L682.7,729.7 L681.8,728.3 L681.0,726.8 L680.4,725.2 L680.0,723.5 L679.8,721.9 L679.8,720.1 L680.0,718.5 L680.5,716.8 L681.1,715.2 L681.9,713.7 L682.9,712.4 L684.0,711.1 L685.3,710.0 L686.7,709.1 L688.2,708.4 L689.8,707.9 L692.7,709.7 L691.7,710.6 L690.8,711.7 L690.1,713.2 L689.6,714.8 L689.2,716.6 L689.1,718.5 L689.1,720.5 L689.4,722.5 L689.8,724.5 L690.4,726.4 L691.2,728.1 L692.2,729.7 L693.3,731.0 L694.4,732.1 L695.6,732.9 L696.9,733.3 Z" fill="#111" stroke="#111" stroke-width="1" />
<ellipse cx="686.28" cy="722.856" rx="2.2950000000000004" ry="4.14" transform="rotate(-10 686.28 722.856)" fill="#fff" stroke="#fff" stroke-width="0.1" />
<path d="M694.0,708.8 L697.3,715.0" fill="none" stroke="#111" stroke-width="1.8" />
<text x="0" y="0" font-size="20" fill="#999" text-anchor="middle" transform="translate(743.3,684) scale(0.72,1)">10</text>
<line x1="742.7" y1="685.5" x2="742.7" y2="699" stroke="#666" stroke-width="1.3" />
<text x="0" y="0" font-size="20" fill="#a8a8a8" text-anchor="middle" transform="translate(693.8,692.3) scale(0.72,1)">12</text>
<line x1="694.9" y1="697.6" x2="694.9" y2="706.6" stroke="#999" stroke-width="1.2" />
<line x1="798.5" y1="694.5" x2="805" y2="693" stroke="#777" stroke-width="1.2" />
<ellipse cx="722.6" cy="744.2" rx="13.8" ry="14" transform="rotate(-10 722.6 744.2)" fill="#fff" stroke="#111" stroke-width="4.26" />
<path d="M723.8,758.1 L722.1,758.2 L720.4,758.0 L718.8,757.6 L717.2,757.0 L715.6,756.3 L714.2,755.3 L712.9,754.1 L711.8,752.9 L710.8,751.4 L710.0,749.9 L709.4,748.3 L709.0,746.6 L708.8,744.9 L708.8,743.1 L709.1,741.4 L709.5,739.8 L710.1,738.2 L710.9,736.7 L711.9,735.3 L713.1,734.0 L714.4,732.9 L715.8,732.0 L717.4,731.2 L719.0,730.7 L722.0,732.6 L721.0,733.4 L720.1,734.6 L719.3,736.0 L718.8,737.7 L718.4,739.5 L718.3,741.5 L718.3,743.5 L718.6,745.5 L719.0,747.5 L719.7,749.4 L720.5,751.2 L721.5,752.8 L722.5,754.2 L723.7,755.2 L725.0,756.0 L726.2,756.5 Z" fill="#111" stroke="#111" stroke-width="1" />
<ellipse cx="715.424" cy="745.88" rx="2.346" ry="4.2" transform="rotate(-10 715.424 745.88)" fill="#fff" stroke="#fff" stroke-width="0.1" />
<path d="M723.3,731.6 L726.7,737.9" fill="none" stroke="#111" stroke-width="1.9" />
<line x1="724" y1="756" x2="725.4" y2="775" stroke="#999" stroke-width="1.2" />
<text x="0" y="0" font-size="20" fill="#a8a8a8" text-anchor="middle" transform="translate(724,793) scale(0.72,1)">12</text>
<line x1="737.5" y1="740" x2="747" y2="738" stroke="#777" stroke-width="1.2" />
<path d="M751.4,741.8 L851.4,717.3 L851.9,711.0 L848.6,705.7 L748.6,730.2 L748.1,736.5 Z" fill="#fff" stroke="#111" stroke-width="2.46" />
<path d="M754.2,740.3 L851.2,716.6" fill="none" stroke="#111" stroke-width="3.81" />
<path d="M753.3,740.9 L752.4,729.8 L756.8,740.0 L755.9,728.9 L760.3,739.1 L759.4,728.0 L763.8,738.3 L762.9,727.2 L767.3,737.4 L766.4,726.3 L770.8,736.6 L769.9,725.5 L774.3,735.7 L773.4,724.6 L777.8,734.9 L776.9,723.7 L781.3,734.0" fill="none" stroke="#111" stroke-width="1.8" />
<path d="M827.3,722.7 L826.6,711.6 L831.1,721.8 L830.3,710.7 L834.8,720.9 L834.1,709.7 L838.6,720.0 L837.8,708.8 L842.3,719.0 L841.6,707.9 L846.1,718.1 L845.4,707.0 L849.9,717.2" fill="none" stroke="#111" stroke-width="2.46" />
<text x="0" y="0" font-size="19" fill="#111" text-anchor="middle" transform="translate(792.2,772.5) scale(0.7,1)" font-weight="bold">11</text>
<line x1="793.9" y1="731" x2="793.2" y2="756" stroke="#111" stroke-width="1.8" />
<line x1="852" y1="709.5" x2="864" y2="706.5" stroke="#777" stroke-width="1.2" />
<path d="M856.6,423.6 L856.6,480" fill="none" stroke="#111" stroke-width="5.82" stroke-dasharray="24.5 7 25 20" style="stroke-linecap:butt"/>
<path d="M856.8,424 Q858,419 864,418.5" fill="none" stroke="#111" stroke-width="1.6" />
<ellipse cx="874.9" cy="422" rx="12.6" ry="18.4" transform="rotate(-8 874.9 422)" fill="#fff" stroke="#111" stroke-width="2.91" />
<ellipse cx="875" cy="422" rx="3.6" ry="7.2" transform="rotate(-6 875 422)" fill="#fff" stroke="#111" stroke-width="3.36" />
<ellipse cx="904.5" cy="417.4" rx="9.3" ry="12" transform="rotate(-8 904.5 417.4)" fill="#fff" stroke="#111" stroke-width="4.03" />
<ellipse cx="904.5" cy="417.4" rx="3.6" ry="6.4" transform="rotate(-8 904.5 417.4)" fill="#fff" stroke="#111" stroke-width="3.81" />
<path d="M903.5,411 L903,424" fill="none" stroke="#111" stroke-width="2.69" />
<ellipse cx="932" cy="412" rx="13.2" ry="14.2" transform="rotate(-10 932 412)" fill="#fff" stroke="#111" stroke-width="3.36" />
<path d="M933.3,426.1 L931.7,426.2 L930.1,426.0 L928.5,425.6 L926.9,424.9 L925.4,424.1 L924.1,423.1 L922.8,422.0 L921.7,420.7 L920.8,419.2 L920.0,417.6 L919.4,416.0 L919.0,414.3 L918.8,412.6 L918.8,410.8 L919.0,409.1 L919.4,407.4 L920.0,405.8 L920.7,404.2 L921.7,402.8 L922.8,401.6 L924.0,400.5 L925.4,399.5 L926.9,398.8 L928.4,398.3 L931.3,400.2 L930.3,401.1 L929.5,402.2 L928.8,403.7 L928.3,405.3 L927.9,407.2 L927.8,409.1 L927.9,411.2 L928.2,413.3 L928.6,415.3 L929.2,417.2 L930.0,419.0 L931.0,420.7 L932.0,422.0 L933.2,423.2 L934.4,424.0 L935.6,424.5 Z" fill="#111" stroke="#111" stroke-width="1" />
<ellipse cx="925.136" cy="413.704" rx="2.244" ry="4.26" transform="rotate(-10 925.136 413.704)" fill="#fff" stroke="#fff" stroke-width="0.1" />
<path d="M932.7,399.2 L936.0,405.6" fill="none" stroke="#111" stroke-width="1.5" />
<line x1="888" y1="419.5" x2="895" y2="418.5" stroke="#666" stroke-width="1.2" />
<line x1="914" y1="415.5" x2="919" y2="414.5" stroke="#666" stroke-width="1.2" />
<line x1="883" y1="441" x2="883" y2="470" stroke="#333" stroke-width="1.4" />
<text x="0" y="0" font-size="18" fill="#333" text-anchor="middle" transform="translate(882.2,486) scale(0.85,1)">6</text>
<line x1="905.4" y1="430" x2="905.4" y2="458" stroke="#333" stroke-width="1.4" />
<text x="0" y="0" font-size="18" fill="#333" text-anchor="middle" transform="translate(905.4,473.5) scale(0.85,1)">7</text>
<line x1="934" y1="427" x2="935" y2="475" stroke="#333" stroke-width="1.4" />
<text x="0" y="0" font-size="19" fill="#333" text-anchor="middle" transform="translate(935,492.2) scale(0.85,1)">8</text>
<path d="M967.7,437.6 Q975,433 998.8,431.4 L1160,449.8 Q1172,452 1178,470 Q1186,492 1186,512 Q1185,527 1176,530.5 L1145.2,535.7 L1008.2,495.2 L970.8,489 Q957,482 954,465 Q955,446 967.7,437.6 Z" fill="#fff" stroke="#111" stroke-width="3.58" />
<path d="M981.2,439.1 L982.3,439.5 L983.3,440.1 L984.4,440.8 L985.5,441.7 L986.5,442.6 L987.5,443.7 L988.4,444.9 L989.3,446.3 L990.2,447.7 L991.0,449.2 L991.8,450.8 L992.5,452.5 L993.1,454.3 L993.6,456.1 L994.1,458.0 L994.5,459.9 L994.8,461.8 L995.1,463.7 L995.2,465.6 L995.3,467.6 L995.3,469.5 L995.2,471.3 L995.0,473.2 L994.8,474.9 L994.4,476.6 L994.0,478.3 L993.5,479.8 L993.0,481.3 L992.4,482.7 L991.7,483.9 L990.9,485.0 L990.1,486.1 L989.2,486.9 L988.3,487.7 L987.3,488.3 L986.3,488.8 L985.3,489.1 L984.2,489.3 L983.2,489.3 L982.1,489.2" fill="none" stroke="#111" stroke-width="2.24" />
<path d="M975.0,440.3 L976.1,440.5 L977.2,441.0 L978.3,441.5 L979.4,442.2 L980.5,443.1 L981.6,444.1 L982.6,445.2 L983.6,446.4 L984.5,447.7 L985.4,449.2 L986.2,450.8 L986.9,452.4 L987.6,454.1 L988.2,455.9 L988.8,457.7 L989.2,459.6 L989.6,461.5 L989.9,463.5 L990.1,465.4 L990.3,467.4 L990.3,469.3 L990.2,471.2 L990.1,473.1 L989.9,474.9 L989.6,476.7 L989.2,478.3 L988.7,479.9 L988.1,481.5 L987.5,482.9 L986.8,484.2 L986.0,485.3 L985.2,486.4 L984.3,487.3 L983.4,488.1 L982.4,488.7 L981.4,489.2 L980.3,489.6 L979.2,489.8 L978.1,489.8 L977.0,489.7" fill="none" stroke="#111" stroke-width="2.69" />
<ellipse cx="967.7" cy="465.5" rx="14" ry="24.5" transform="rotate(-8 967.7 465.5)" fill="#fff" stroke="#111" stroke-width="3.58" />
<ellipse cx="966.5" cy="467.5" rx="6.2" ry="9.5" transform="rotate(-8 966.5 467.5)" fill="#fff" stroke="#111" stroke-width="3.81" />
<path d="M966.8,475.4 L966.4,475.3 L966.1,475.2 L965.7,475.0 L965.3,474.7 L965.0,474.4 L964.6,474.1 L964.3,473.7 L963.9,473.3 L963.6,472.8 L963.3,472.3 L963.1,471.7 L962.8,471.2 L962.6,470.6 L962.4,470.0 L962.3,469.3 L962.1,468.7 L962.0,468.0 L962.0,467.4 L961.9,466.7 L961.9,466.1 L961.9,465.4 L962.0,464.8 L962.1,464.2 L962.2,463.6 L962.3,463.0 L962.5,462.5 L962.7,462.0 L962.9,461.5 L963.2,461.1 L963.5,460.8 L963.7,460.4 L964.1,460.2 L964.4,459.9 L964.7,459.8 L965.1,459.6 L965.5,459.6 L965.8,459.6 L966.2,459.6 L966.6,459.7 L967.0,459.8" fill="none" stroke="#111" stroke-width="3.58" />
<path d="M1104.7,453.2 L1122,455.5" fill="none" stroke="#666" stroke-width="1.2" />
<path d="M1146,460 Q1158,470 1160,495 Q1161,515 1157.5,529.5" fill="none" stroke="#111" stroke-width="2.46" />
<ellipse cx="1079.8" cy="464.1" rx="3.2" ry="5.6" transform="rotate(-10 1079.8 464.1)" fill="#fff" stroke="#111" stroke-width="1.4" />
<path d="M1078.3,458.8 L1078.5,458.7 L1078.8,458.6 L1079.0,458.6 L1079.3,458.6 L1079.5,458.6 L1079.8,458.7 L1080.1,458.8 L1080.3,458.9 L1080.6,459.1 L1080.8,459.3 L1081.1,459.5 L1081.3,459.7 L1081.5,460.0 L1081.7,460.3 L1081.9,460.7 L1082.1,461.0 L1082.3,461.4 L1082.5,461.8 L1082.6,462.2 L1082.7,462.6 L1082.8,463.0 L1082.9,463.4 L1083.0,463.9 L1083.1,464.3 L1083.1,464.8 L1083.1,465.2 L1083.1,465.6 L1083.1,466.0 L1083.0,466.4 L1082.9,466.8 L1082.9,467.2 L1082.7,467.5 L1082.6,467.9 L1082.5,468.2 L1082.3,468.5 L1082.1,468.7 L1081.9,468.9 L1081.7,469.1 L1081.5,469.3 L1081.3,469.4" fill="none" stroke="#111" stroke-width="3.36" />
<ellipse cx="1132.7" cy="473.4" rx="3.2" ry="5.6" transform="rotate(-10 1132.7 473.4)" fill="#fff" stroke="#111" stroke-width="1.4" />
<path d="M1131.2,468.1 L1131.4,468.0 L1131.7,467.9 L1131.9,467.9 L1132.2,467.9 L1132.4,467.9 L1132.7,468.0 L1133.0,468.1 L1133.2,468.2 L1133.5,468.4 L1133.7,468.6 L1134.0,468.8 L1134.2,469.0 L1134.4,469.3 L1134.6,469.6 L1134.8,470.0 L1135.0,470.3 L1135.2,470.7 L1135.4,471.1 L1135.5,471.5 L1135.6,471.9 L1135.7,472.3 L1135.8,472.7 L1135.9,473.2 L1136.0,473.6 L1136.0,474.1 L1136.0,474.5 L1136.0,474.9 L1136.0,475.3 L1135.9,475.7 L1135.8,476.1 L1135.8,476.5 L1135.6,476.8 L1135.5,477.2 L1135.4,477.5 L1135.2,477.8 L1135.0,478.0 L1134.8,478.2 L1134.6,478.4 L1134.4,478.6 L1134.2,478.7" fill="none" stroke="#111" stroke-width="3.36" />
<ellipse cx="1082.9" cy="503" rx="3.2" ry="5.6" transform="rotate(-10 1082.9 503)" fill="#fff" stroke="#111" stroke-width="1.4" />
<path d="M1081.4,497.7 L1081.6,497.6 L1081.9,497.5 L1082.1,497.5 L1082.4,497.5 L1082.6,497.5 L1082.9,497.6 L1083.2,497.7 L1083.4,497.8 L1083.7,498.0 L1083.9,498.2 L1084.2,498.4 L1084.4,498.6 L1084.6,498.9 L1084.8,499.2 L1085.0,499.6 L1085.2,499.9 L1085.4,500.3 L1085.6,500.7 L1085.7,501.1 L1085.8,501.5 L1085.9,501.9 L1086.0,502.3 L1086.1,502.8 L1086.2,503.2 L1086.2,503.7 L1086.2,504.1 L1086.2,504.5 L1086.2,504.9 L1086.1,505.3 L1086.0,505.7 L1086.0,506.1 L1085.8,506.4 L1085.7,506.8 L1085.6,507.1 L1085.4,507.4 L1085.2,507.6 L1085.0,507.8 L1084.8,508.0 L1084.6,508.2 L1084.4,508.3" fill="none" stroke="#111" stroke-width="3.36" />
<ellipse cx="1135.9" cy="517" rx="3.2" ry="5.6" transform="rotate(-10 1135.9 517)" fill="#fff" stroke="#111" stroke-width="1.4" />
<path d="M1134.4,511.7 L1134.6,511.6 L1134.9,511.5 L1135.1,511.5 L1135.4,511.5 L1135.6,511.5 L1135.9,511.6 L1136.2,511.7 L1136.4,511.8 L1136.7,512.0 L1136.9,512.2 L1137.2,512.4 L1137.4,512.6 L1137.6,512.9 L1137.8,513.2 L1138.0,513.6 L1138.2,513.9 L1138.4,514.3 L1138.6,514.7 L1138.7,515.1 L1138.8,515.5 L1138.9,515.9 L1139.0,516.3 L1139.1,516.8 L1139.2,517.2 L1139.2,517.7 L1139.2,518.1 L1139.2,518.5 L1139.2,518.9 L1139.1,519.3 L1139.0,519.7 L1139.0,520.1 L1138.8,520.4 L1138.7,520.8 L1138.6,521.1 L1138.4,521.4 L1138.2,521.6 L1138.0,521.8 L1137.8,522.0 L1137.6,522.2 L1137.4,522.3" fill="none" stroke="#111" stroke-width="3.36" />
<text x="0" y="0" font-size="19" fill="#222" text-anchor="middle" transform="translate(995.7,403.5) scale(0.78,1)">13</text>
<line x1="999.5" y1="406.5" x2="999.5" y2="431.4" stroke="#222" stroke-width="1.6" />
<ellipse cx="1191.6" cy="463" rx="9" ry="10.5" transform="rotate(-8 1191.6 463)" fill="#fff" stroke="#111" stroke-width="3.81" />
<ellipse cx="1191.3" cy="463" rx="3.6" ry="5.8" transform="rotate(-8 1191.3 463)" fill="#fff" stroke="#111" stroke-width="3.36" />
<path d="M1206.0,467.1 L1249.0,457.8 L1250.0,452.8 L1247.0,448.6 L1204.0,457.9 L1203.0,462.9 Z" fill="#fff" stroke="#111" stroke-width="1.6" />
<path d="M1207.9,466.2 L1207.8,457.6 L1211.3,465.5 L1211.2,456.8 L1214.7,464.8 L1214.6,456.1 L1218.1,464.0 L1218.0,455.3 L1221.5,463.3 L1221.4,454.6 L1225.0,462.5 L1224.9,453.9 L1228.4,461.8 L1228.3,453.1 L1231.8,461.1 L1231.7,452.4 L1235.2,460.3 L1235.1,451.6 L1238.6,459.6 L1238.6,450.9 L1242.1,458.8 L1242.0,450.2 L1245.5,458.1 L1245.4,449.4 L1248.9,457.4" fill="none" stroke="#111" stroke-width="1.8" />
<ellipse cx="1258" cy="449.5" rx="10.5" ry="12" transform="rotate(-10 1258 449.5)" fill="#fff" stroke="#111" stroke-width="3.14" />
<path d="M1259.2,461.4 L1257.9,461.4 L1256.6,461.3 L1255.3,460.9 L1254.1,460.4 L1252.9,459.7 L1251.8,458.8 L1250.8,457.8 L1249.9,456.7 L1249.1,455.5 L1248.5,454.2 L1248.0,452.8 L1247.7,451.3 L1247.5,449.9 L1247.5,448.4 L1247.6,446.9 L1247.9,445.5 L1248.4,444.1 L1249.0,442.9 L1249.7,441.7 L1250.6,440.6 L1251.6,439.7 L1252.6,438.9 L1253.8,438.3 L1255.0,437.9 L1257.3,439.5 L1256.6,440.2 L1255.9,441.2 L1255.4,442.4 L1255.0,443.8 L1254.7,445.4 L1254.6,447.0 L1254.7,448.8 L1254.9,450.5 L1255.3,452.2 L1255.8,453.9 L1256.5,455.4 L1257.3,456.8 L1258.1,457.9 L1259.0,458.9 L1260.0,459.6 L1261.0,460.0 Z" fill="#111" stroke="#111" stroke-width="1" />
<ellipse cx="1252.54" cy="450.94" rx="1.7850000000000001" ry="3.5999999999999996" transform="rotate(-10 1252.54 450.94)" fill="#fff" stroke="#fff" stroke-width="0.1" />
<path d="M1258.5,438.7 L1261.2,444.1" fill="none" stroke="#111" stroke-width="1.4" />
<text x="0" y="0" font-size="19" fill="#222" text-anchor="middle" transform="translate(1188,430) scale(0.78,1)">15</text>
<line x1="1188.2" y1="433" x2="1188.8" y2="454.5" stroke="#222" stroke-width="1.4" />
<text x="0" y="0" font-size="19" fill="#222" text-anchor="middle" transform="translate(1221.5,422) scale(0.78,1)">14</text>
<line x1="1222.4" y1="425.2" x2="1223" y2="453.2" stroke="#222" stroke-width="1.4" />
<path d="M664.4,1191.4 L663.3,1192.4 L661.9,1193.1 L660.3,1193.4 L658.8,1193.4 L657.4,1193.0 L612.2,1171.8 L611.0,1171.0 L610.3,1170.0 L610.1,1168.8 L610.3,1167.6 L611.0,1166.5 L629.9,1144.4 L631.0,1143.4 L632.4,1142.7 L633.9,1142.4 L635.5,1142.4 L636.9,1142.9 L682.1,1164.0 L683.2,1164.8 L683.9,1165.8 L684.2,1167.0 L684.0,1168.2 L683.3,1169.4 Z" fill="#fff" stroke="#111" stroke-width="3.58" />
<path d="M665.3,1249.8 L664.1,1249.2 L662.7,1249.2 L661.5,1249.6 L660.4,1250.4 L659.7,1251.6 L641.4,1294.6 L641.0,1296.0 L641.1,1297.5 L641.6,1298.9 L642.4,1300.1 L643.5,1301.0 L671.0,1317.5 L672.3,1318.0 L673.6,1318.0 L674.9,1317.6 L675.9,1316.8 L676.6,1315.6 L694.9,1272.6 L695.3,1271.2 L695.2,1269.8 L694.8,1268.3 L693.9,1267.1 L692.8,1266.2 Z" fill="#fff" stroke="#111" stroke-width="3.58" />
<path d="M708.2,1257.6 L707.5,1258.8 L707.2,1260.2 L707.4,1261.5 L708.0,1262.8 L709.0,1263.8 L755.6,1297.4 L756.9,1298.0 L758.3,1298.3 L759.7,1298.1 L761.0,1297.5 L762.1,1296.5 L780.2,1273.6 L780.8,1272.4 L781.1,1271.0 L780.9,1269.7 L780.3,1268.4 L779.3,1267.4 L732.7,1233.8 L731.4,1233.1 L730.0,1232.9 L728.6,1233.1 L727.3,1233.7 L726.3,1234.7 Z" fill="#fff" stroke="#111" stroke-width="3.58" />
<path d="M689.3,1185.2 L688.1,1184.5 L687.3,1183.5 L686.9,1182.3 L686.9,1181.0 L687.4,1179.7 L713.9,1135.4 L714.8,1134.2 L716.0,1133.4 L717.4,1132.9 L718.9,1132.8 L720.4,1133.1 L749.8,1144.6 L751.0,1145.3 L751.9,1146.3 L752.3,1147.5 L752.2,1148.8 L751.7,1150.1 L725.3,1194.4 L724.4,1195.5 L723.1,1196.4 L721.7,1196.9 L720.2,1197.0 L718.8,1196.6 Z" fill="#fff" stroke="#111" stroke-width="3.58" />
<path d="M669.3,1216.4 L669.0,1215.1 L668.4,1214.1 L667.4,1213.4 L666.2,1213.2 L664.8,1213.4 L627.9,1226.3 L626.5,1226.9 L625.4,1228.0 L624.5,1229.3 L623.9,1230.8 L623.8,1232.2 L625.0,1260.0 L625.3,1261.4 L625.9,1262.4 L626.9,1263.1 L628.1,1263.3 L629.4,1263.1 L666.4,1250.2 L667.7,1249.6 L668.9,1248.5 L669.8,1247.2 L670.3,1245.7 L670.5,1244.3 Z" fill="#fff" stroke="#111" stroke-width="3.58" />
<path d="M707.9,1202.0 L707.3,1200.8 L707.2,1199.6 L707.6,1198.4 L708.5,1197.5 L709.7,1196.9 L752.4,1183.1 L753.8,1182.9 L755.4,1183.0 L756.9,1183.5 L758.2,1184.4 L759.2,1185.5 L775.2,1209.5 L775.8,1210.7 L775.8,1212.0 L775.4,1213.1 L774.6,1214.0 L773.4,1214.7 L730.7,1228.5 L729.3,1228.7 L727.7,1228.5 L726.2,1228.0 L724.9,1227.2 L723.9,1226.1 Z" fill="#fff" stroke="#111" stroke-width="3.58" />
<path d="M684.7,1263.1 L683.5,1262.9 L682.5,1263.2 L681.9,1263.9 L681.8,1264.9 L682.1,1266.1 L705.0,1323.5 L705.8,1324.8 L706.8,1326.2 L708.2,1327.3 L709.6,1328.2 L711.0,1328.8 L741.8,1337.0 L743.1,1337.2 L744.0,1336.9 L744.6,1336.2 L744.8,1335.2 L744.5,1334.0 L721.5,1276.6 L720.8,1275.3 L719.7,1273.9 L718.4,1272.8 L716.9,1271.8 L715.5,1271.3 Z" fill="#fff" stroke="#111" stroke-width="3.58" />
<path d="M674.3,1196.5 L672.9,1196.6 L671.5,1196.3 L670.3,1195.5 L669.4,1194.4 L668.9,1193.1 L648.5,1104.6 L648.4,1103.2 L648.8,1101.8 L649.5,1100.6 L650.6,1099.8 L651.9,1099.3 L679.9,1093.3 L681.4,1093.2 L682.7,1093.5 L683.9,1094.3 L684.8,1095.4 L685.4,1096.7 L705.7,1185.2 L705.8,1186.6 L705.4,1188.0 L704.7,1189.2 L703.6,1190.0 L702.3,1190.5 Z" fill="#fff" stroke="#111" stroke-width="3.58" />
<path d="M668.9,1181.8 L668.3,1182.3 L667.7,1182.6 L666.9,1182.8 L666.1,1182.8 L665.5,1182.6 L630.5,1166.2 L629.9,1165.8 L629.6,1165.3 L629.5,1164.7 L629.6,1164.1 L629.9,1163.6 L634.5,1158.2 L635.0,1157.8 L635.7,1157.4 L636.4,1157.3 L637.2,1157.3 L637.9,1157.5 L672.9,1173.9 L673.4,1174.2 L673.8,1174.7 L673.9,1175.3 L673.8,1175.9 L673.4,1176.5 Z" fill="#fff" stroke="#111" stroke-width="2.24" />
<path d="M674.6,1258.5 L674.0,1258.3 L673.3,1258.2 L672.7,1258.4 L672.2,1258.8 L671.8,1259.4 L657.6,1292.8 L657.5,1293.5 L657.5,1294.2 L657.7,1294.9 L658.1,1295.5 L658.7,1295.9 L665.5,1300.0 L666.1,1300.2 L666.7,1300.3 L667.3,1300.1 L667.8,1299.7 L668.2,1299.1 L682.4,1265.7 L682.6,1265.0 L682.6,1264.3 L682.3,1263.6 L681.9,1263.0 L681.4,1262.6 Z" fill="#fff" stroke="#111" stroke-width="2.24" />
<path d="M717.7,1250.9 L717.4,1251.4 L717.3,1252.1 L717.4,1252.8 L717.7,1253.4 L718.1,1253.9 L753.9,1279.7 L754.5,1280.0 L755.2,1280.1 L755.9,1280.0 L756.6,1279.7 L757.1,1279.3 L761.4,1273.7 L761.8,1273.1 L761.9,1272.5 L761.8,1271.8 L761.5,1271.2 L761.0,1270.7 L725.2,1244.9 L724.6,1244.6 L723.9,1244.4 L723.2,1244.5 L722.6,1244.8 L722.1,1245.3 Z" fill="#fff" stroke="#111" stroke-width="2.24" />
<path d="M702.0,1186.9 L701.4,1186.6 L701.0,1186.1 L700.8,1185.5 L700.8,1184.8 L701.1,1184.2 L721.5,1150.0 L721.9,1149.4 L722.5,1149.0 L723.2,1148.8 L723.9,1148.7 L724.6,1148.9 L731.9,1151.7 L732.5,1152.1 L732.9,1152.5 L733.1,1153.1 L733.1,1153.8 L732.8,1154.4 L712.4,1188.6 L712.0,1189.2 L711.4,1189.6 L710.7,1189.8 L709.9,1189.9 L709.2,1189.7 Z" fill="#fff" stroke="#111" stroke-width="2.24" />
<path d="M667.5,1227.8 L667.3,1227.2 L667.0,1226.7 L666.5,1226.3 L665.9,1226.2 L665.3,1226.3 L636.2,1236.4 L635.6,1236.8 L635.0,1237.3 L634.6,1237.9 L634.3,1238.6 L634.3,1239.3 L634.5,1246.0 L634.7,1246.6 L635.0,1247.1 L635.5,1247.5 L636.1,1247.6 L636.7,1247.5 L665.8,1237.4 L666.4,1237.1 L667.0,1236.5 L667.4,1235.9 L667.7,1235.2 L667.7,1234.5 Z" fill="#fff" stroke="#111" stroke-width="2.24" />
<path d="M716.5,1210.3 L716.3,1209.7 L716.2,1209.1 L716.4,1208.6 L716.8,1208.1 L717.4,1207.8 L750.6,1197.1 L751.4,1197.0 L752.1,1197.0 L752.8,1197.3 L753.5,1197.7 L754.0,1198.2 L757.8,1204.0 L758.1,1204.6 L758.1,1205.2 L758.0,1205.8 L757.5,1206.2 L757.0,1206.5 L723.7,1217.3 L723.0,1217.4 L722.2,1217.3 L721.5,1217.1 L720.9,1216.7 L720.4,1216.1 Z" fill="#fff" stroke="#111" stroke-width="2.24" />
<path d="M697.6,1269.4 L697.0,1269.4 L696.6,1269.5 L696.3,1269.8 L696.2,1270.3 L696.3,1270.9 L713.9,1314.8 L714.3,1315.5 L714.8,1316.1 L715.4,1316.7 L716.1,1317.2 L716.8,1317.4 L724.4,1319.5 L725.0,1319.5 L725.5,1319.4 L725.8,1319.1 L725.9,1318.6 L725.7,1318.0 L708.2,1274.1 L707.8,1273.4 L707.3,1272.8 L706.6,1272.2 L705.9,1271.7 L705.2,1271.5 Z" fill="#fff" stroke="#111" stroke-width="2.24" />
<path d="M683.8,1189.4 L683.1,1189.4 L682.4,1189.3 L681.9,1188.9 L681.4,1188.4 L681.2,1187.7 L665.8,1121.0 L665.8,1120.3 L665.9,1119.6 L666.3,1119.1 L666.8,1118.6 L667.5,1118.4 L674.2,1116.9 L674.9,1116.9 L675.6,1117.1 L676.2,1117.4 L676.6,1118.0 L676.9,1118.6 L692.2,1185.4 L692.2,1186.0 L692.1,1186.7 L691.7,1187.3 L691.2,1187.7 L690.5,1188.0 Z" fill="#fff" stroke="#111" stroke-width="2.24" />
<path d="M677.8,1188.3 L698.8,1183.0 L714.6,1198.8 L719.8,1225.1 L714.6,1248.8 L693.5,1259.3 L675.1,1246.1 L667.3,1219.8 Z" fill="#fff" stroke="#fff" stroke-width="0.1" />
<path d="M667.3,1162.0 L675.1,1188.3" fill="none" stroke="#111" stroke-width="5.6" />
<path d="M693.5,1167.3 L701.4,1188.3" fill="none" stroke="#111" stroke-width="5.6" />
<path d="M713.3,1193.5 L715.9,1209.3" fill="none" stroke="#111" stroke-width="5.6" />
<path d="M714.6,1230.4 L722.5,1240.9" fill="none" stroke="#111" stroke-width="5.6" />
<path d="M710.6,1256.7 L717.2,1267.2" fill="none" stroke="#111" stroke-width="5.6" />
<path d="M688.3,1256.7 L690.9,1272.4" fill="none" stroke="#111" stroke-width="5.6" />
<path d="M671.2,1243.5 L663.3,1256.7" fill="none" stroke="#111" stroke-width="5.6" />
<path d="M663.3,1204.1 L656.7,1214.6" fill="none" stroke="#111" stroke-width="5.6" />
<ellipse cx="694.1" cy="1217.7" rx="5.5" ry="10.5" transform="rotate(-12 694.1 1217.7)" fill="#fff" stroke="#111" stroke-width="2.91" />
<ellipse cx="685.1" cy="1192.2" rx="1.6" ry="2.6" transform="rotate(-12 685.1 1192.2)" fill="#111" stroke="#111" stroke-width="1.8" />
<ellipse cx="704.1" cy="1204.1" rx="1.6" ry="2.6" transform="rotate(-12 704.1 1204.1)" fill="#111" stroke="#111" stroke-width="1.8" />
<ellipse cx="713.3" cy="1227.7" rx="1.6" ry="2.6" transform="rotate(-12 713.3 1227.7)" fill="#111" stroke="#111" stroke-width="1.8" />
<ellipse cx="701.4" cy="1243.5" rx="1.6" ry="2.6" transform="rotate(-12 701.4 1243.5)" fill="#111" stroke="#111" stroke-width="1.8" />
<ellipse cx="684.3" cy="1236.9" rx="1.6" ry="2.6" transform="rotate(-12 684.3 1236.9)" fill="#111" stroke="#111" stroke-width="1.8" />
<ellipse cx="676.5" cy="1210.6" rx="1.6" ry="2.6" transform="rotate(-12 676.5 1210.6)" fill="#111" stroke="#111" stroke-width="1.8" />
<path d="M558.0,1215.0 L568.0,1213.0 L576.0,1218.0 L576.5,1228.0 L569.0,1233.0 L559.0,1232.0 L555.5,1225.0 Z" fill="#fff" stroke="#111" stroke-width="3.36" />
<ellipse cx="562" cy="1224" rx="4.2" ry="7" transform="rotate(-8 562 1224)" fill="#fff" stroke="#111" stroke-width="2.46" />
<path d="M568,1214 L569,1232" fill="none" stroke="#111" stroke-width="2.24" />
<path d="M581.8,1212 L604,1208.5 L605,1219 L583,1223.5 Z" fill="#fff" stroke="#111" stroke-width="1.4" />
<path d="M585.0,1222.4 L585.0,1212.2 M588.4,1221.7 L588.4,1211.5 M591.8,1221.1 L591.8,1210.9 M595.2,1220.4 L595.2,1210.2 M598.6,1219.8 L598.6,1209.6 M602.0,1219.1 L602.0,1208.9 " fill="none" stroke="#111" stroke-width="2.91" />
<line x1="606" y1="1213.8" x2="667" y2="1201.4" stroke="#444" stroke-width="1.3" />
<text x="0" y="0" font-size="21" fill="#999" text-anchor="middle" transform="translate(571.5,1280.3) scale(0.9,1)" letter-spacing="2">24</text>
<line x1="570" y1="1234.5" x2="571.3" y2="1254" stroke="#777" stroke-width="1.4" />
<text x="0" y="0" font-size="20" fill="#222" text-anchor="middle" transform="translate(736.5,1117.3) scale(0.85,1)">22</text>
<line x1="737.7" y1="1121.2" x2="738.2" y2="1136" stroke="#222" stroke-width="1.6" />
<path d="M1151.6,1161.5 Q1149.9,1147.6 1156.8,1151.1 Q1163.7,1154.5 1168.9,1164.9 Q1174.1,1175.3 1175.0,1185.7 Q1175.8,1196.1 1171.5,1201.2 Q1167.2,1206.4 1162.0,1201.2 Q1156.8,1196.1 1155.1,1185.7 Q1153.4,1175.3 1151.6,1161.5 Z" fill="#fff" stroke="#111" stroke-width="3.36" />
<path d="M1153.4,1151.1 Q1167.2,1161.5 1169.8,1171.8 Q1172.4,1182.2 1168.9,1197.8 " fill="none" stroke="#111" stroke-width="2.24" />
<path d="M1172.4,1178.8 L1184.5,1177.0" fill="none" stroke="#111" stroke-width="2.24" />
<path d="M1120.5,1241.9 Q1118.8,1234.1 1126.4,1229.4 L1169.9,1202.5 Q1177.6,1197.8 1184.6,1203.4 L1222.5,1233.7 Q1229.5,1239.3 1232.3,1247.8 L1233.6,1251.5 Q1236.4,1260.1 1231.8,1267.8 L1218.5,1290.4 Q1213.9,1298.1 1208.7,1297.3 L1208.7,1297.3 Q1203.5,1296.4 1195.7,1291.9 L1130.0,1254.2 Q1122.2,1249.7 1120.5,1241.9 Z" fill="#fff" stroke="#111" stroke-width="3.36" />
<path d="M1217.4,1277.4 L1213.9,1289.5" fill="none" stroke="#111" stroke-width="1.4" />
<path d="M1068.7,1271.8 Q1061.7,1272.2 1062.4,1279.1 L1065.4,1306.7 Q1066.2,1313.7 1068.0,1320.5 L1084.8,1383.1 Q1086.6,1389.8 1090.2,1392.9 L1090.2,1392.9 Q1093.8,1396.1 1100.5,1393.8 L1130.1,1383.5 Q1136.7,1381.2 1137.8,1376.0 L1137.8,1376.0 Q1138.8,1370.8 1138.0,1363.8 L1128.2,1275.7 Q1127.4,1268.7 1120.4,1269.1 Z" fill="#fff" stroke="#111" stroke-width="3.36" />
<path d="M1022.6,1221.9 Q1018.4,1215.1 1013.0,1220.9 L964.3,1273.2 Q958.9,1279.1 958.1,1287.1 L957.6,1291.9 Q956.8,1299.9 963.6,1304.1 L982.2,1315.7 Q989.0,1319.9 994.2,1317.7 L994.2,1317.7 Q999.4,1315.4 1005.0,1309.8 L1043.9,1270.9 Q1049.6,1265.3 1045.3,1258.5 Z" fill="#fff" stroke="#111" stroke-width="3.36" />
<path d="M961.7,1112.1 Q939.5,1097.4 940.6,1105.2 Q941.6,1113.0 948.0,1123.7 Q954.4,1134.5 969.1,1141.0 Q983.8,1147.6 998.5,1154.5 Q1013.2,1161.5 1015.8,1151.9 Q1018.4,1142.4 1001.1,1134.6 Q983.8,1126.9 961.7,1112.1 Z" fill="#fff" stroke="#111" stroke-width="3.36" />
<path d="M939.5,1097.4 L1014.9,1142.4" fill="none" stroke="#111" stroke-width="3.81" />
<path d="M1068.6,1102.6 L1084.2,1098.1 L1101.5,1097.4 L1118.8,1106.1 L1136.1,1123.4 L1156.8,1151.1 L1170.7,1182.2 L1174.1,1197.8 L1118.8,1239.3 L1087.6,1265.3 L1059.9,1272.2 Z" fill="#fff" stroke="#111" stroke-width="3.36" />
<path d="M1117.0,1165.6 L1146.4,1144.2 L1155.1,1161.5 L1148.2,1171.1 Z" fill="#111" stroke="#111" stroke-width="2.24" />
<path d="M1203.5,1072.5 L1205.3,1075.6 L1143.0,1147.6 L1117.0,1168.4 L1114.6,1164.9 L1156.8,1109.6 Z" fill="#fff" stroke="#111" stroke-width="3.36" />
<path d="M1201.8,1075.6 L1122.2,1161.5" fill="none" stroke="#111" stroke-width="5.04" />
<path d="M1037.4,986.7 L1042.6,983.3 L1048.9,984.3 L1068.6,1102.6 L1057.2,1107.8 Z" fill="#fff" stroke="#111" stroke-width="3.36" />
<path d="M1043.3,986.7 L1062.7,1105.4" fill="none" stroke="#111" stroke-width="4.48" />
<ellipse cx="1062.7" cy="1190.2" rx="49.5" ry="83" transform="rotate(-9 1062.7 1190.2)" fill="#fff" stroke="#111" stroke-width="4.03" />
<ellipse cx="1064.2" cy="1191.2" rx="43.5" ry="75.5" transform="rotate(-9 1064.2 1191.2)" fill="#fff" stroke="#111" stroke-width="1.6" />
<ellipse cx="1065.2" cy="1191.7" rx="40.5" ry="71" transform="rotate(-9 1065.2 1191.7)" fill="#161616" stroke="#161616" stroke-width="1" />
<path d="M1103.3,1194.4 L1087.7,1192.7" fill="none" stroke="#fff" stroke-width="7.06" />
<path d="M1103.4,1211.4 L1087.8,1199.5" fill="none" stroke="#fff" stroke-width="6.83" />
<path d="M1100.9,1227.0 L1086.8,1205.9" fill="none" stroke="#fff" stroke-width="6.5" />
<path d="M1096.0,1240.2 L1084.9,1211.2" fill="none" stroke="#fff" stroke-width="6.05" />
<path d="M1089.0,1250.1 L1082.1,1215.2" fill="none" stroke="#fff" stroke-width="5.38" />
<path d="M1080.3,1256.0 L1078.6,1217.6" fill="none" stroke="#fff" stroke-width="4.7" />
<path d="M1070.7,1257.6 L1074.8,1218.2" fill="none" stroke="#fff" stroke-width="4.7" />
<path d="M1060.6,1254.6 L1070.7,1217.0" fill="none" stroke="#fff" stroke-width="5.38" />
<path d="M1050.9,1247.4 L1066.8,1214.1" fill="none" stroke="#fff" stroke-width="6.05" />
<path d="M1042.1,1236.3 L1063.3,1209.6" fill="none" stroke="#fff" stroke-width="6.5" />
<path d="M1035.0,1222.2 L1060.4,1203.9" fill="none" stroke="#fff" stroke-width="6.83" />
<path d="M1029.8,1206.1 L1058.4,1197.3" fill="none" stroke="#fff" stroke-width="7.06" />
<path d="M1027.1,1188.9 L1057.3,1190.3" fill="none" stroke="#fff" stroke-width="7.06" />
<path d="M1027.0,1172.0 L1057.2,1183.5" fill="none" stroke="#fff" stroke-width="6.83" />
<path d="M1029.5,1156.3 L1058.2,1177.1" fill="none" stroke="#fff" stroke-width="6.5" />
<path d="M1034.4,1143.1 L1060.1,1171.8" fill="none" stroke="#fff" stroke-width="6.05" />
<path d="M1041.4,1133.2 L1062.9,1167.8" fill="none" stroke="#fff" stroke-width="5.38" />
<path d="M1050.1,1127.3 L1066.4,1165.4" fill="none" stroke="#fff" stroke-width="4.7" />
<path d="M1059.7,1125.8 L1070.2,1164.8" fill="none" stroke="#fff" stroke-width="4.7" />
<path d="M1069.8,1128.7 L1074.3,1166.0" fill="none" stroke="#fff" stroke-width="5.38" />
<path d="M1079.5,1136.0 L1078.2,1168.9" fill="none" stroke="#fff" stroke-width="6.05" />
<path d="M1088.3,1147.0 L1081.7,1173.4" fill="none" stroke="#fff" stroke-width="6.5" />
<path d="M1095.4,1161.1 L1084.6,1179.1" fill="none" stroke="#fff" stroke-width="6.83" />
<path d="M1100.6,1177.3 L1086.6,1185.7" fill="none" stroke="#fff" stroke-width="7.06" />
<ellipse cx="1072.5" cy="1191.5" rx="8.5" ry="17.5" transform="rotate(-9 1072.5 1191.5)" fill="#fff" stroke="#111" stroke-width="2.46" />
<path d="M1268.0,1218.5 L1277.0,1216.5 L1285.0,1220.5 L1286.0,1229.5 L1279.0,1234.5 L1270.0,1233.5 L1266.0,1226.5 Z" fill="#fff" stroke="#111" stroke-width="3.14" />
<ellipse cx="1272.5" cy="1226.0" rx="4.4" ry="7" transform="rotate(-8 1272.5 1226.0)" fill="#fff" stroke="#111" stroke-width="2.24" />
<path d="M1278,1217.5 L1279,1233.5" fill="none" stroke="#111" stroke-width="2.24" />
<path d="M1287,1216 L1318,1207.5 L1320,1216 L1289,1226 Z" fill="#fff" stroke="#111" stroke-width="1.6" />
<path d="M1303.3,1220.6 L1302.7,1211.4 M1306.8,1219.6 L1306.2,1210.4 M1310.3,1218.6 L1309.7,1209.4 M1313.8,1217.6 L1313.2,1208.4 M1317.3,1216.6 L1316.7,1207.4 " fill="none" stroke="#111" stroke-width="2.69" />
<line x1="1184.5" y1="1204.7" x2="1305.6" y2="1187.4" stroke="#111" stroke-width="1.6" />
<path d="M1184.5,1205.1 L1194.9,1205.1" fill="none" stroke="#111" stroke-width="4.7" style="stroke-linecap:butt"/>
<path d="M1302.1,1187.4 L1310.8,1187.8" fill="none" stroke="#111" stroke-width="4.7" style="stroke-linecap:butt"/>
<path d="M1314.3,1197.4 L1324.6,1197.8" fill="none" stroke="#111" stroke-width="4.7" style="stroke-linecap:butt"/>
<path d="M1329.8,1205.4 L1343.7,1205.7" fill="none" stroke="#111" stroke-width="4.7" style="stroke-linecap:butt"/>
<line x1="1281.4" y1="1237.6" x2="1281.4" y2="1263.5" stroke="#777" stroke-width="1.4" />
<text x="0" y="0" font-size="21" fill="#999" text-anchor="middle" transform="translate(1282.5,1287.8) scale(0.9,1)" letter-spacing="1">24</text>
<text x="0" y="0" font-size="21" fill="#999" text-anchor="middle" transform="translate(1107.5,1062.8) scale(0.9,1)" letter-spacing="2">23</text>
<line x1="1105" y1="1069.8" x2="1105.6" y2="1096" stroke="#333" stroke-width="1.6" />
<text x="0" y="0" font-size="19" fill="#aaa" text-anchor="middle" transform="translate(565.5,399) scale(0.8,1)">2</text>
<line x1="564" y1="405.5" x2="564" y2="445" stroke="#222" stroke-width="1.8" />
<text x="0" y="0" font-size="19" fill="#111" text-anchor="middle" transform="translate(433,788.3) scale(0.72,1)" font-weight="bold">18</text>
<line x1="444.7" y1="780.7" x2="482.4" y2="780.7" stroke="#111" stroke-width="1.8" />
<text x="0" y="0" font-size="19" fill="#b0b0b0" text-anchor="middle" transform="translate(460,959) scale(0.75,1)">17</text>
<line x1="473" y1="953" x2="543" y2="953" stroke="#555" stroke-width="1.3" />
<path d="M541,949 L543.5,954" fill="none" stroke="#111" stroke-width="1.6" />
<text x="0" y="0" font-size="17" fill="#aaa" text-anchor="middle" transform="translate(415.5,695.5) scale(0.8,1)">16</text>
<line x1="429.2" y1="691" x2="455.3" y2="691" stroke="#666" stroke-width="1.2" />
<line x1="527.7" y1="546.3" x2="577.5" y2="535.3" stroke="#333" stroke-width="1.3" />
<line x1="661.5" y1="519.3" x2="748" y2="502.2" stroke="#555" stroke-width="1.2" />
<line x1="913.2" y1="521.7" x2="1129.6" y2="478.1" stroke="#333" stroke-width="1.3" />
<line x1="471" y1="557" x2="478" y2="556" stroke="#666" stroke-width="1.2" />
<line x1="398" y1="571" x2="409" y2="569.5" stroke="#666" stroke-width="1.2" />
<line x1="361" y1="578.5" x2="370" y2="577" stroke="#666" stroke-width="1.2" />
</g>
</svg>
</body></html>
